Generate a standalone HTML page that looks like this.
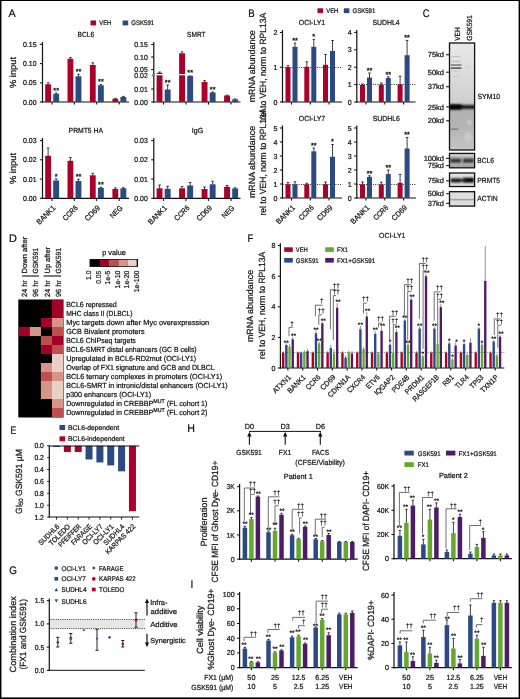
<!DOCTYPE html>
<html><head><meta charset="utf-8"><title>Figure</title>
<style>html,body{margin:0;padding:0;background:#fff;}body{width:520px;height:699px;overflow:hidden;font-family:"Liberation Sans",sans-serif;}svg{display:block;}</style></head>
<body>
<svg width="520" height="699" viewBox="0 0 520 699" font-family="'Liberation Sans', sans-serif" text-rendering="geometricPrecision" style="opacity:0.999">
<rect x="0.00" y="0.00" width="520.00" height="699.00" fill="#fff" />
<text transform="translate(8.60 16.60) scale(0.976 1)" font-size="11.09" text-anchor="start" fill="#111" stroke="#111" stroke-width="0.22" >A</text>
<rect x="90.50" y="20.50" width="5.60" height="4.90" fill="#AB002A" />
<text transform="translate(99.30 25.30) scale(0.881 1)" font-size="6.67" text-anchor="start" fill="#111" stroke="#111" stroke-width="0.22" >VEH</text>
<rect x="122.60" y="20.50" width="5.60" height="4.90" fill="#2B4982" />
<text transform="translate(131.30 25.30) scale(0.906 1)" font-size="6.67" text-anchor="start" fill="#111" stroke="#111" stroke-width="0.22" >GSK591</text>
<line x1="42.50" y1="42.00" x2="42.50" y2="102.60" stroke="#111" stroke-width="1.2" />
<line x1="39.90" y1="102.00" x2="42.50" y2="102.00" stroke="#111" stroke-width="1.08" />
<text transform="translate(36.50 104.58) scale(0.954 1)" font-size="7.24" text-anchor="end" fill="#111" stroke="#111" stroke-width="0.22" >0.00</text>
<line x1="39.90" y1="82.80" x2="42.50" y2="82.80" stroke="#111" stroke-width="1.08" />
<text transform="translate(36.50 85.38) scale(0.954 1)" font-size="7.24" text-anchor="end" fill="#111" stroke="#111" stroke-width="0.22" >0.05</text>
<line x1="39.90" y1="63.60" x2="42.50" y2="63.60" stroke="#111" stroke-width="1.08" />
<text transform="translate(36.50 66.18) scale(0.954 1)" font-size="7.24" text-anchor="end" fill="#111" stroke="#111" stroke-width="0.22" >0.10</text>
<line x1="39.90" y1="44.40" x2="42.50" y2="44.40" stroke="#111" stroke-width="1.08" />
<text transform="translate(36.50 46.98) scale(0.954 1)" font-size="7.24" text-anchor="end" fill="#111" stroke="#111" stroke-width="0.22" >0.15</text>
<line x1="41.90" y1="102.00" x2="129.00" y2="102.00" stroke="#111" stroke-width="1.2" />
<line x1="52.00" y1="102.00" x2="52.00" y2="104.60" stroke="#111" stroke-width="1.08" />
<line x1="74.30" y1="102.00" x2="74.30" y2="104.60" stroke="#111" stroke-width="1.08" />
<line x1="96.70" y1="102.00" x2="96.70" y2="104.60" stroke="#111" stroke-width="1.08" />
<line x1="119.20" y1="102.00" x2="119.20" y2="104.60" stroke="#111" stroke-width="1.08" />
<text transform="translate(85.80 36.90) scale(0.896 1)" font-size="7.43" text-anchor="middle" fill="#111" stroke="#111" stroke-width="0.22" >BCL6</text>
<text transform="translate(15.90 72.50) rotate(-90) scale(1.035 1)" font-size="8.98" text-anchor="middle" fill="#111" stroke="#111" stroke-width="0.22" >% input</text>
<line x1="48.10" y1="82.80" x2="48.10" y2="84.80" stroke="#111" stroke-width="0.8" />
<line x1="46.80" y1="82.80" x2="49.40" y2="82.80" stroke="#111" stroke-width="0.8" />
<rect x="45.20" y="84.30" width="5.80" height="17.70" fill="#AB002A" />
<line x1="56.15" y1="93.00" x2="56.15" y2="94.30" stroke="#111" stroke-width="0.8" />
<line x1="54.85" y1="93.00" x2="57.45" y2="93.00" stroke="#111" stroke-width="0.8" />
<rect x="53.20" y="93.80" width="5.90" height="8.20" fill="#2B4982" />
<text transform="translate(56.20 92.70)" font-size="7.40" text-anchor="middle" fill="#111" stroke="#111" stroke-width="0.3" >**</text>
<line x1="70.40" y1="57.60" x2="70.40" y2="59.30" stroke="#111" stroke-width="0.8" />
<line x1="69.10" y1="57.60" x2="71.70" y2="57.60" stroke="#111" stroke-width="0.8" />
<rect x="67.50" y="58.80" width="5.80" height="43.20" fill="#AB002A" />
<line x1="78.45" y1="74.30" x2="78.45" y2="76.80" stroke="#111" stroke-width="0.8" />
<line x1="77.15" y1="74.30" x2="79.75" y2="74.30" stroke="#111" stroke-width="0.8" />
<rect x="75.50" y="76.30" width="5.90" height="25.70" fill="#2B4982" />
<text transform="translate(78.50 74.00)" font-size="7.40" text-anchor="middle" fill="#111" stroke="#111" stroke-width="0.3" >**</text>
<line x1="92.80" y1="62.80" x2="92.80" y2="65.50" stroke="#111" stroke-width="0.8" />
<line x1="91.50" y1="62.80" x2="94.10" y2="62.80" stroke="#111" stroke-width="0.8" />
<rect x="89.90" y="65.00" width="5.80" height="37.00" fill="#AB002A" />
<line x1="100.85" y1="84.60" x2="100.85" y2="85.80" stroke="#111" stroke-width="0.8" />
<line x1="99.55" y1="84.60" x2="102.15" y2="84.60" stroke="#111" stroke-width="0.8" />
<rect x="97.90" y="85.30" width="5.90" height="16.70" fill="#2B4982" />
<text transform="translate(100.90 84.30)" font-size="7.40" text-anchor="middle" fill="#111" stroke="#111" stroke-width="0.3" >**</text>
<line x1="115.30" y1="98.30" x2="115.30" y2="99.30" stroke="#111" stroke-width="0.8" />
<line x1="114.00" y1="98.30" x2="116.60" y2="98.30" stroke="#111" stroke-width="0.8" />
<rect x="112.40" y="98.80" width="5.80" height="3.20" fill="#AB002A" />
<line x1="123.35" y1="96.40" x2="123.35" y2="97.50" stroke="#111" stroke-width="0.8" />
<line x1="122.05" y1="96.40" x2="124.65" y2="96.40" stroke="#111" stroke-width="0.8" />
<rect x="120.40" y="97.00" width="5.90" height="5.00" fill="#2B4982" />
<line x1="153.80" y1="42.00" x2="153.80" y2="102.60" stroke="#111" stroke-width="1.2" />
<line x1="151.20" y1="102.00" x2="153.80" y2="102.00" stroke="#111" stroke-width="1.08" />
<text transform="translate(147.80 104.58) scale(0.954 1)" font-size="7.24" text-anchor="end" fill="#111" stroke="#111" stroke-width="0.22" >0.00</text>
<line x1="151.20" y1="89.00" x2="153.80" y2="89.00" stroke="#111" stroke-width="1.08" />
<text transform="translate(147.80 91.58) scale(0.954 1)" font-size="7.24" text-anchor="end" fill="#111" stroke="#111" stroke-width="0.22" >0.01</text>
<line x1="151.20" y1="75.80" x2="153.80" y2="75.80" stroke="#111" stroke-width="1.08" />
<text transform="translate(147.80 78.38) scale(0.954 1)" font-size="7.24" text-anchor="end" fill="#111" stroke="#111" stroke-width="0.22" >0.02</text>
<line x1="151.20" y1="69.50" x2="153.80" y2="69.50" stroke="#111" stroke-width="1.08" />
<text transform="translate(147.80 72.08) scale(0.954 1)" font-size="7.24" text-anchor="end" fill="#111" stroke="#111" stroke-width="0.22" >0.05</text>
<line x1="151.20" y1="57.00" x2="153.80" y2="57.00" stroke="#111" stroke-width="1.08" />
<text transform="translate(147.80 59.58) scale(0.954 1)" font-size="7.24" text-anchor="end" fill="#111" stroke="#111" stroke-width="0.22" >0.10</text>
<line x1="151.20" y1="44.50" x2="153.80" y2="44.50" stroke="#111" stroke-width="1.08" />
<text transform="translate(147.80 47.08) scale(0.954 1)" font-size="7.24" text-anchor="end" fill="#111" stroke="#111" stroke-width="0.22" >0.15</text>
<line x1="153.20" y1="102.00" x2="240.50" y2="102.00" stroke="#111" stroke-width="1.2" />
<line x1="163.50" y1="102.00" x2="163.50" y2="104.60" stroke="#111" stroke-width="1.08" />
<line x1="186.00" y1="102.00" x2="186.00" y2="104.60" stroke="#111" stroke-width="1.08" />
<line x1="208.50" y1="102.00" x2="208.50" y2="104.60" stroke="#111" stroke-width="1.08" />
<line x1="231.00" y1="102.00" x2="231.00" y2="104.60" stroke="#111" stroke-width="1.08" />
<text transform="translate(196.30 36.80) scale(0.881 1)" font-size="7.43" text-anchor="middle" fill="#111" stroke="#111" stroke-width="0.22" >SMRT</text>
<line x1="159.55" y1="72.00" x2="159.55" y2="73.30" stroke="#111" stroke-width="0.8" />
<line x1="158.25" y1="72.00" x2="160.85" y2="72.00" stroke="#111" stroke-width="0.8" />
<rect x="156.60" y="72.80" width="5.90" height="29.20" fill="#AB002A" />
<line x1="167.65" y1="85.00" x2="167.65" y2="90.00" stroke="#111" stroke-width="0.8" />
<line x1="166.35" y1="85.00" x2="168.95" y2="85.00" stroke="#111" stroke-width="0.8" />
<rect x="164.70" y="89.50" width="5.90" height="12.50" fill="#2B4982" />
<text transform="translate(167.70 84.70)" font-size="7.40" text-anchor="middle" fill="#111" stroke="#111" stroke-width="0.3" >**</text>
<line x1="182.05" y1="51.80" x2="182.05" y2="53.80" stroke="#111" stroke-width="0.8" />
<line x1="180.75" y1="51.80" x2="183.35" y2="51.80" stroke="#111" stroke-width="0.8" />
<rect x="179.10" y="53.30" width="5.90" height="48.70" fill="#AB002A" />
<line x1="190.15" y1="75.00" x2="190.15" y2="76.30" stroke="#111" stroke-width="0.8" />
<line x1="188.85" y1="75.00" x2="191.45" y2="75.00" stroke="#111" stroke-width="0.8" />
<rect x="187.20" y="75.80" width="5.90" height="26.20" fill="#2B4982" />
<text transform="translate(190.20 74.70)" font-size="7.40" text-anchor="middle" fill="#111" stroke="#111" stroke-width="0.3" >**</text>
<line x1="204.55" y1="80.60" x2="204.55" y2="82.50" stroke="#111" stroke-width="0.8" />
<line x1="203.25" y1="80.60" x2="205.85" y2="80.60" stroke="#111" stroke-width="0.8" />
<rect x="201.60" y="82.00" width="5.90" height="20.00" fill="#AB002A" />
<line x1="212.65" y1="92.00" x2="212.65" y2="93.00" stroke="#111" stroke-width="0.8" />
<line x1="211.35" y1="92.00" x2="213.95" y2="92.00" stroke="#111" stroke-width="0.8" />
<rect x="209.70" y="92.50" width="5.90" height="9.50" fill="#2B4982" />
<text transform="translate(212.70 91.70)" font-size="7.40" text-anchor="middle" fill="#111" stroke="#111" stroke-width="0.3" >**</text>
<line x1="227.05" y1="95.10" x2="227.05" y2="96.00" stroke="#111" stroke-width="0.8" />
<line x1="225.75" y1="95.10" x2="228.35" y2="95.10" stroke="#111" stroke-width="0.8" />
<rect x="224.10" y="95.50" width="5.90" height="6.50" fill="#AB002A" />
<line x1="235.15" y1="98.90" x2="235.15" y2="99.80" stroke="#111" stroke-width="0.8" />
<line x1="233.85" y1="98.90" x2="236.45" y2="98.90" stroke="#111" stroke-width="0.8" />
<rect x="232.20" y="99.30" width="5.90" height="2.70" fill="#2B4982" />
<line x1="154.60" y1="74.60" x2="194.00" y2="74.60" stroke="#fff" stroke-width="1.1" />
<rect x="150.40" y="74.60" width="2.70" height="2.00" fill="#fff" />
<circle cx="153.5" cy="75.2" r="1.0" fill="#fff" stroke="#111" stroke-width="0.7"/>
<line x1="42.50" y1="138.00" x2="42.50" y2="198.90" stroke="#111" stroke-width="1.2" />
<line x1="39.90" y1="198.30" x2="42.50" y2="198.30" stroke="#111" stroke-width="1.08" />
<text transform="translate(36.50 200.88) scale(0.954 1)" font-size="7.24" text-anchor="end" fill="#111" stroke="#111" stroke-width="0.22" >0.00</text>
<line x1="39.90" y1="179.05" x2="42.50" y2="179.05" stroke="#111" stroke-width="1.08" />
<text transform="translate(36.50 181.63) scale(0.954 1)" font-size="7.24" text-anchor="end" fill="#111" stroke="#111" stroke-width="0.22" >0.01</text>
<line x1="39.90" y1="159.80" x2="42.50" y2="159.80" stroke="#111" stroke-width="1.08" />
<text transform="translate(36.50 162.38) scale(0.954 1)" font-size="7.24" text-anchor="end" fill="#111" stroke="#111" stroke-width="0.22" >0.02</text>
<line x1="39.90" y1="140.55" x2="42.50" y2="140.55" stroke="#111" stroke-width="1.08" />
<text transform="translate(36.50 143.13) scale(0.954 1)" font-size="7.24" text-anchor="end" fill="#111" stroke="#111" stroke-width="0.22" >0.03</text>
<line x1="41.90" y1="198.30" x2="129.00" y2="198.30" stroke="#111" stroke-width="1.2" />
<line x1="52.00" y1="198.30" x2="52.00" y2="200.90" stroke="#111" stroke-width="1.08" />
<line x1="74.30" y1="198.30" x2="74.30" y2="200.90" stroke="#111" stroke-width="1.08" />
<line x1="96.70" y1="198.30" x2="96.70" y2="200.90" stroke="#111" stroke-width="1.08" />
<line x1="119.20" y1="198.30" x2="119.20" y2="200.90" stroke="#111" stroke-width="1.08" />
<text transform="translate(85.80 133.10) scale(0.917 1)" font-size="7.43" text-anchor="middle" fill="#111" stroke="#111" stroke-width="0.22" >PRMT5 HA</text>
<text transform="translate(15.90 168.50) rotate(-90) scale(1.035 1)" font-size="8.98" text-anchor="middle" fill="#111" stroke="#111" stroke-width="0.22" >% input</text>
<line x1="48.10" y1="148.00" x2="48.10" y2="156.30" stroke="#111" stroke-width="0.8" />
<line x1="46.80" y1="148.00" x2="49.40" y2="148.00" stroke="#111" stroke-width="0.8" />
<rect x="45.20" y="155.80" width="5.80" height="42.50" fill="#AB002A" />
<line x1="56.15" y1="178.80" x2="56.15" y2="181.00" stroke="#111" stroke-width="0.8" />
<line x1="54.85" y1="178.80" x2="57.45" y2="178.80" stroke="#111" stroke-width="0.8" />
<rect x="53.20" y="180.50" width="5.90" height="17.80" fill="#2B4982" />
<text transform="translate(56.20 178.50)" font-size="7.40" text-anchor="middle" fill="#111" stroke="#111" stroke-width="0.3" >*</text>
<line x1="70.40" y1="157.50" x2="70.40" y2="161.30" stroke="#111" stroke-width="0.8" />
<line x1="69.10" y1="157.50" x2="71.70" y2="157.50" stroke="#111" stroke-width="0.8" />
<rect x="67.50" y="160.80" width="5.80" height="37.50" fill="#AB002A" />
<line x1="78.45" y1="179.30" x2="78.45" y2="181.50" stroke="#111" stroke-width="0.8" />
<line x1="77.15" y1="179.30" x2="79.75" y2="179.30" stroke="#111" stroke-width="0.8" />
<rect x="75.50" y="181.00" width="5.90" height="17.30" fill="#2B4982" />
<text transform="translate(78.50 179.00)" font-size="7.40" text-anchor="middle" fill="#111" stroke="#111" stroke-width="0.3" >**</text>
<line x1="92.80" y1="173.30" x2="92.80" y2="175.80" stroke="#111" stroke-width="0.8" />
<line x1="91.50" y1="173.30" x2="94.10" y2="173.30" stroke="#111" stroke-width="0.8" />
<rect x="89.90" y="175.30" width="5.80" height="23.00" fill="#AB002A" />
<line x1="100.85" y1="187.20" x2="100.85" y2="188.30" stroke="#111" stroke-width="0.8" />
<line x1="99.55" y1="187.20" x2="102.15" y2="187.20" stroke="#111" stroke-width="0.8" />
<rect x="97.90" y="187.80" width="5.90" height="10.50" fill="#2B4982" />
<text transform="translate(100.90 186.90)" font-size="7.40" text-anchor="middle" fill="#111" stroke="#111" stroke-width="0.3" >**</text>
<line x1="115.30" y1="187.90" x2="115.30" y2="189.50" stroke="#111" stroke-width="0.8" />
<line x1="114.00" y1="187.90" x2="116.60" y2="187.90" stroke="#111" stroke-width="0.8" />
<rect x="112.40" y="189.00" width="5.80" height="9.30" fill="#AB002A" />
<line x1="123.35" y1="187.70" x2="123.35" y2="188.80" stroke="#111" stroke-width="0.8" />
<line x1="122.05" y1="187.70" x2="124.65" y2="187.70" stroke="#111" stroke-width="0.8" />
<rect x="120.40" y="188.30" width="5.90" height="10.00" fill="#2B4982" />
<text transform="translate(56.00 208.50) rotate(-45) scale(0.930 1)" font-size="7.61" text-anchor="end" fill="#111" stroke="#111" stroke-width="0.22" >BANK1</text>
<text transform="translate(78.30 208.50) rotate(-45) scale(0.864 1)" font-size="7.61" text-anchor="end" fill="#111" stroke="#111" stroke-width="0.22" >CCR6</text>
<text transform="translate(100.70 208.50) rotate(-45) scale(0.945 1)" font-size="7.61" text-anchor="end" fill="#111" stroke="#111" stroke-width="0.22" >CD69</text>
<text transform="translate(123.20 208.50) rotate(-45) scale(0.882 1)" font-size="7.61" text-anchor="end" fill="#111" stroke="#111" stroke-width="0.22" >NEG</text>
<line x1="153.80" y1="138.00" x2="153.80" y2="198.90" stroke="#111" stroke-width="1.2" />
<line x1="151.20" y1="198.30" x2="153.80" y2="198.30" stroke="#111" stroke-width="1.08" />
<text transform="translate(147.80 200.88) scale(0.954 1)" font-size="7.24" text-anchor="end" fill="#111" stroke="#111" stroke-width="0.22" >0.00</text>
<line x1="151.20" y1="179.05" x2="153.80" y2="179.05" stroke="#111" stroke-width="1.08" />
<text transform="translate(147.80 181.63) scale(0.954 1)" font-size="7.24" text-anchor="end" fill="#111" stroke="#111" stroke-width="0.22" >0.01</text>
<line x1="151.20" y1="159.80" x2="153.80" y2="159.80" stroke="#111" stroke-width="1.08" />
<text transform="translate(147.80 162.38) scale(0.954 1)" font-size="7.24" text-anchor="end" fill="#111" stroke="#111" stroke-width="0.22" >0.02</text>
<line x1="151.20" y1="140.55" x2="153.80" y2="140.55" stroke="#111" stroke-width="1.08" />
<text transform="translate(147.80 143.13) scale(0.954 1)" font-size="7.24" text-anchor="end" fill="#111" stroke="#111" stroke-width="0.22" >0.03</text>
<line x1="153.20" y1="198.30" x2="240.50" y2="198.30" stroke="#111" stroke-width="1.2" />
<line x1="163.50" y1="198.30" x2="163.50" y2="200.90" stroke="#111" stroke-width="1.08" />
<line x1="186.00" y1="198.30" x2="186.00" y2="200.90" stroke="#111" stroke-width="1.08" />
<line x1="208.50" y1="198.30" x2="208.50" y2="200.90" stroke="#111" stroke-width="1.08" />
<line x1="231.00" y1="198.30" x2="231.00" y2="200.90" stroke="#111" stroke-width="1.08" />
<text transform="translate(197.50 133.10) scale(0.953 1)" font-size="7.43" text-anchor="middle" fill="#111" stroke="#111" stroke-width="0.22" >IgG</text>
<line x1="159.55" y1="185.00" x2="159.55" y2="188.80" stroke="#111" stroke-width="0.8" />
<line x1="158.25" y1="185.00" x2="160.85" y2="185.00" stroke="#111" stroke-width="0.8" />
<rect x="156.60" y="188.30" width="5.90" height="10.00" fill="#AB002A" />
<line x1="167.65" y1="186.30" x2="167.65" y2="189.30" stroke="#111" stroke-width="0.8" />
<line x1="166.35" y1="186.30" x2="168.95" y2="186.30" stroke="#111" stroke-width="0.8" />
<rect x="164.70" y="188.80" width="5.90" height="9.50" fill="#2B4982" />
<line x1="182.05" y1="186.50" x2="182.05" y2="188.80" stroke="#111" stroke-width="0.8" />
<line x1="180.75" y1="186.50" x2="183.35" y2="186.50" stroke="#111" stroke-width="0.8" />
<rect x="179.10" y="188.30" width="5.90" height="10.00" fill="#AB002A" />
<line x1="190.15" y1="182.50" x2="190.15" y2="186.00" stroke="#111" stroke-width="0.8" />
<line x1="188.85" y1="182.50" x2="191.45" y2="182.50" stroke="#111" stroke-width="0.8" />
<rect x="187.20" y="185.50" width="5.90" height="12.80" fill="#2B4982" />
<line x1="204.55" y1="187.00" x2="204.55" y2="189.50" stroke="#111" stroke-width="0.8" />
<line x1="203.25" y1="187.00" x2="205.85" y2="187.00" stroke="#111" stroke-width="0.8" />
<rect x="201.60" y="189.00" width="5.90" height="9.30" fill="#AB002A" />
<line x1="212.65" y1="181.30" x2="212.65" y2="184.80" stroke="#111" stroke-width="0.8" />
<line x1="211.35" y1="181.30" x2="213.95" y2="181.30" stroke="#111" stroke-width="0.8" />
<rect x="209.70" y="184.30" width="5.90" height="14.00" fill="#2B4982" />
<line x1="227.05" y1="185.50" x2="227.05" y2="187.30" stroke="#111" stroke-width="0.8" />
<line x1="225.75" y1="185.50" x2="228.35" y2="185.50" stroke="#111" stroke-width="0.8" />
<rect x="224.10" y="186.80" width="5.90" height="11.50" fill="#AB002A" />
<line x1="235.15" y1="187.80" x2="235.15" y2="189.00" stroke="#111" stroke-width="0.8" />
<line x1="233.85" y1="187.80" x2="236.45" y2="187.80" stroke="#111" stroke-width="0.8" />
<rect x="232.20" y="188.50" width="5.90" height="9.80" fill="#2B4982" />
<text transform="translate(167.50 208.50) rotate(-45) scale(0.930 1)" font-size="7.61" text-anchor="end" fill="#111" stroke="#111" stroke-width="0.22" >BANK1</text>
<text transform="translate(190.00 208.50) rotate(-45) scale(0.864 1)" font-size="7.61" text-anchor="end" fill="#111" stroke="#111" stroke-width="0.22" >CCR6</text>
<text transform="translate(212.50 208.50) rotate(-45) scale(0.945 1)" font-size="7.61" text-anchor="end" fill="#111" stroke="#111" stroke-width="0.22" >CD69</text>
<text transform="translate(235.00 208.50) rotate(-45) scale(0.882 1)" font-size="7.61" text-anchor="end" fill="#111" stroke="#111" stroke-width="0.22" >NEG</text>
<text transform="translate(248.20 16.80) scale(0.864 1)" font-size="11.09" text-anchor="start" fill="#111" stroke="#111" stroke-width="0.22" >B</text>
<rect x="317.50" y="8.30" width="5.60" height="4.80" fill="#AB002A" />
<text transform="translate(326.30 13.10) scale(0.881 1)" font-size="6.67" text-anchor="start" fill="#111" stroke="#111" stroke-width="0.22" >VEH</text>
<rect x="343.80" y="8.30" width="5.60" height="4.80" fill="#2B4982" />
<text transform="translate(352.50 13.10) scale(0.906 1)" font-size="6.67" text-anchor="start" fill="#111" stroke="#111" stroke-width="0.22" >GSK591</text>
<text transform="translate(254.90 66.30) rotate(-90) scale(0.991 1)" font-size="8.98" text-anchor="middle" fill="#111" stroke="#111" stroke-width="0.22" >mRNA abundance</text>
<text transform="translate(266.20 66.30) rotate(-90) scale(0.956 1)" font-size="8.98" text-anchor="middle" fill="#111" stroke="#111" stroke-width="0.22" >rel to VEH, norm to RPL13A</text>
<text transform="translate(254.90 162.00) rotate(-90) scale(0.991 1)" font-size="8.98" text-anchor="middle" fill="#111" stroke="#111" stroke-width="0.22" >mRNA abundance</text>
<text transform="translate(266.20 162.00) rotate(-90) scale(0.956 1)" font-size="8.98" text-anchor="middle" fill="#111" stroke="#111" stroke-width="0.22" >rel to VEH, norm to RPL13A</text>
<line x1="282.50" y1="30.00" x2="282.50" y2="102.60" stroke="#111" stroke-width="1.2" />
<line x1="279.90" y1="102.00" x2="282.50" y2="102.00" stroke="#111" stroke-width="1.08" />
<text transform="translate(277.50 104.58) scale(0.981 1)" font-size="7.24" text-anchor="end" fill="#111" stroke="#111" stroke-width="0.22" >0</text>
<line x1="279.90" y1="67.25" x2="282.50" y2="67.25" stroke="#111" stroke-width="1.08" />
<text transform="translate(277.50 69.83) scale(0.981 1)" font-size="7.24" text-anchor="end" fill="#111" stroke="#111" stroke-width="0.22" >1</text>
<line x1="279.90" y1="32.50" x2="282.50" y2="32.50" stroke="#111" stroke-width="1.08" />
<text transform="translate(277.50 35.08) scale(0.981 1)" font-size="7.24" text-anchor="end" fill="#111" stroke="#111" stroke-width="0.22" >2</text>
<line x1="281.90" y1="102.00" x2="342.00" y2="102.00" stroke="#111" stroke-width="1.2" />
<line x1="291.50" y1="102.00" x2="291.50" y2="104.60" stroke="#111" stroke-width="1.08" />
<line x1="310.30" y1="102.00" x2="310.30" y2="104.60" stroke="#111" stroke-width="1.08" />
<line x1="329.00" y1="102.00" x2="329.00" y2="104.60" stroke="#111" stroke-width="1.08" />
<text transform="translate(312.00 25.10) scale(0.931 1)" font-size="7.43" text-anchor="middle" fill="#111" stroke="#111" stroke-width="0.22" >OCI-LY1</text>
<line x1="282.50" y1="67.50" x2="342.50" y2="67.50" stroke="#333" stroke-width="1.0" stroke-dasharray="1 1.3"/>
<line x1="288.00" y1="65.50" x2="288.00" y2="67.50" stroke="#111" stroke-width="0.8" />
<line x1="286.70" y1="65.50" x2="289.30" y2="65.50" stroke="#111" stroke-width="0.8" />
<rect x="285.50" y="67.00" width="5.00" height="35.00" fill="#AB002A" />
<line x1="295.00" y1="43.00" x2="295.00" y2="47.30" stroke="#111" stroke-width="0.8" />
<line x1="293.70" y1="43.00" x2="296.30" y2="43.00" stroke="#111" stroke-width="0.8" />
<rect x="292.50" y="46.80" width="5.00" height="55.20" fill="#2B4982" />
<text transform="translate(295.00 42.70)" font-size="7.40" text-anchor="middle" fill="#111" stroke="#111" stroke-width="0.3" >**</text>
<line x1="306.80" y1="61.80" x2="306.80" y2="67.30" stroke="#111" stroke-width="0.8" />
<line x1="305.50" y1="61.80" x2="308.10" y2="61.80" stroke="#111" stroke-width="0.8" />
<rect x="304.30" y="66.80" width="5.00" height="35.20" fill="#AB002A" />
<line x1="313.80" y1="39.30" x2="313.80" y2="47.30" stroke="#111" stroke-width="0.8" />
<line x1="312.50" y1="39.30" x2="315.10" y2="39.30" stroke="#111" stroke-width="0.8" />
<rect x="311.30" y="46.80" width="5.00" height="55.20" fill="#2B4982" />
<text transform="translate(313.80 39.00)" font-size="7.40" text-anchor="middle" fill="#111" stroke="#111" stroke-width="0.3" >*</text>
<line x1="325.50" y1="54.50" x2="325.50" y2="65.30" stroke="#111" stroke-width="0.8" />
<line x1="324.20" y1="54.50" x2="326.80" y2="54.50" stroke="#111" stroke-width="0.8" />
<rect x="323.00" y="64.80" width="5.00" height="37.20" fill="#AB002A" />
<line x1="332.50" y1="40.50" x2="332.50" y2="51.50" stroke="#111" stroke-width="0.8" />
<line x1="331.20" y1="40.50" x2="333.80" y2="40.50" stroke="#111" stroke-width="0.8" />
<rect x="330.00" y="51.00" width="5.00" height="51.00" fill="#2B4982" />
<line x1="356.80" y1="30.00" x2="356.80" y2="102.60" stroke="#111" stroke-width="1.2" />
<line x1="354.20" y1="102.00" x2="356.80" y2="102.00" stroke="#111" stroke-width="1.08" />
<text transform="translate(351.80 104.58) scale(0.981 1)" font-size="7.24" text-anchor="end" fill="#111" stroke="#111" stroke-width="0.22" >0</text>
<line x1="354.20" y1="84.60" x2="356.80" y2="84.60" stroke="#111" stroke-width="1.08" />
<text transform="translate(351.80 87.18) scale(0.981 1)" font-size="7.24" text-anchor="end" fill="#111" stroke="#111" stroke-width="0.22" >1</text>
<line x1="354.20" y1="67.20" x2="356.80" y2="67.20" stroke="#111" stroke-width="1.08" />
<text transform="translate(351.80 69.78) scale(0.981 1)" font-size="7.24" text-anchor="end" fill="#111" stroke="#111" stroke-width="0.22" >2</text>
<line x1="354.20" y1="49.80" x2="356.80" y2="49.80" stroke="#111" stroke-width="1.08" />
<text transform="translate(351.80 52.38) scale(0.981 1)" font-size="7.24" text-anchor="end" fill="#111" stroke="#111" stroke-width="0.22" >3</text>
<line x1="354.20" y1="32.40" x2="356.80" y2="32.40" stroke="#111" stroke-width="1.08" />
<text transform="translate(351.80 34.98) scale(0.981 1)" font-size="7.24" text-anchor="end" fill="#111" stroke="#111" stroke-width="0.22" >4</text>
<line x1="356.20" y1="102.00" x2="415.50" y2="102.00" stroke="#111" stroke-width="1.2" />
<line x1="366.00" y1="102.00" x2="366.00" y2="104.60" stroke="#111" stroke-width="1.08" />
<line x1="384.80" y1="102.00" x2="384.80" y2="104.60" stroke="#111" stroke-width="1.08" />
<line x1="403.60" y1="102.00" x2="403.60" y2="104.60" stroke="#111" stroke-width="1.08" />
<text transform="translate(386.00 25.10) scale(0.928 1)" font-size="7.43" text-anchor="middle" fill="#111" stroke="#111" stroke-width="0.22" >SUDHL4</text>
<line x1="356.80" y1="84.50" x2="415.50" y2="84.50" stroke="#333" stroke-width="1.0" stroke-dasharray="1 1.3"/>
<line x1="362.50" y1="84.00" x2="362.50" y2="85.50" stroke="#111" stroke-width="0.8" />
<line x1="361.20" y1="84.00" x2="363.80" y2="84.00" stroke="#111" stroke-width="0.8" />
<rect x="360.00" y="85.00" width="5.00" height="17.00" fill="#AB002A" />
<line x1="369.50" y1="73.00" x2="369.50" y2="78.00" stroke="#111" stroke-width="0.8" />
<line x1="368.20" y1="73.00" x2="370.80" y2="73.00" stroke="#111" stroke-width="0.8" />
<rect x="367.00" y="77.50" width="5.00" height="24.50" fill="#2B4982" />
<text transform="translate(369.50 72.70)" font-size="7.40" text-anchor="middle" fill="#111" stroke="#111" stroke-width="0.3" >**</text>
<line x1="381.30" y1="83.00" x2="381.30" y2="85.30" stroke="#111" stroke-width="0.8" />
<line x1="380.00" y1="83.00" x2="382.60" y2="83.00" stroke="#111" stroke-width="0.8" />
<rect x="378.80" y="84.80" width="5.00" height="17.20" fill="#AB002A" />
<line x1="388.30" y1="76.80" x2="388.30" y2="78.50" stroke="#111" stroke-width="0.8" />
<line x1="387.00" y1="76.80" x2="389.60" y2="76.80" stroke="#111" stroke-width="0.8" />
<rect x="385.80" y="78.00" width="5.00" height="24.00" fill="#2B4982" />
<text transform="translate(388.30 76.50)" font-size="7.40" text-anchor="middle" fill="#111" stroke="#111" stroke-width="0.3" >**</text>
<line x1="400.10" y1="76.20" x2="400.10" y2="84.80" stroke="#111" stroke-width="0.8" />
<line x1="398.80" y1="76.20" x2="401.40" y2="76.20" stroke="#111" stroke-width="0.8" />
<rect x="397.60" y="84.30" width="5.00" height="17.70" fill="#AB002A" />
<line x1="407.10" y1="40.40" x2="407.10" y2="55.70" stroke="#111" stroke-width="0.8" />
<line x1="405.80" y1="40.40" x2="408.40" y2="40.40" stroke="#111" stroke-width="0.8" />
<rect x="404.60" y="55.20" width="5.00" height="46.80" fill="#2B4982" />
<text transform="translate(407.10 40.10)" font-size="7.40" text-anchor="middle" fill="#111" stroke="#111" stroke-width="0.3" >**</text>
<line x1="282.50" y1="125.50" x2="282.50" y2="198.60" stroke="#111" stroke-width="1.2" />
<line x1="279.90" y1="198.00" x2="282.50" y2="198.00" stroke="#111" stroke-width="1.08" />
<text transform="translate(277.50 200.58) scale(0.981 1)" font-size="7.24" text-anchor="end" fill="#111" stroke="#111" stroke-width="0.22" >0</text>
<line x1="279.90" y1="184.00" x2="282.50" y2="184.00" stroke="#111" stroke-width="1.08" />
<text transform="translate(277.50 186.58) scale(0.981 1)" font-size="7.24" text-anchor="end" fill="#111" stroke="#111" stroke-width="0.22" >1</text>
<line x1="279.90" y1="170.00" x2="282.50" y2="170.00" stroke="#111" stroke-width="1.08" />
<text transform="translate(277.50 172.58) scale(0.981 1)" font-size="7.24" text-anchor="end" fill="#111" stroke="#111" stroke-width="0.22" >2</text>
<line x1="279.90" y1="156.00" x2="282.50" y2="156.00" stroke="#111" stroke-width="1.08" />
<text transform="translate(277.50 158.58) scale(0.981 1)" font-size="7.24" text-anchor="end" fill="#111" stroke="#111" stroke-width="0.22" >3</text>
<line x1="279.90" y1="142.00" x2="282.50" y2="142.00" stroke="#111" stroke-width="1.08" />
<text transform="translate(277.50 144.58) scale(0.981 1)" font-size="7.24" text-anchor="end" fill="#111" stroke="#111" stroke-width="0.22" >4</text>
<line x1="279.90" y1="128.00" x2="282.50" y2="128.00" stroke="#111" stroke-width="1.08" />
<text transform="translate(277.50 130.58) scale(0.981 1)" font-size="7.24" text-anchor="end" fill="#111" stroke="#111" stroke-width="0.22" >5</text>
<line x1="281.90" y1="198.00" x2="342.00" y2="198.00" stroke="#111" stroke-width="1.2" />
<line x1="291.50" y1="198.00" x2="291.50" y2="200.60" stroke="#111" stroke-width="1.08" />
<line x1="310.30" y1="198.00" x2="310.30" y2="200.60" stroke="#111" stroke-width="1.08" />
<line x1="329.00" y1="198.00" x2="329.00" y2="200.60" stroke="#111" stroke-width="1.08" />
<text transform="translate(312.00 120.60) scale(0.931 1)" font-size="7.43" text-anchor="middle" fill="#111" stroke="#111" stroke-width="0.22" >OCI-LY7</text>
<line x1="282.50" y1="184.50" x2="342.50" y2="184.50" stroke="#333" stroke-width="1.0" stroke-dasharray="1 1.3"/>
<line x1="288.00" y1="182.50" x2="288.00" y2="184.80" stroke="#111" stroke-width="0.8" />
<line x1="286.70" y1="182.50" x2="289.30" y2="182.50" stroke="#111" stroke-width="0.8" />
<rect x="285.50" y="184.30" width="5.00" height="13.70" fill="#AB002A" />
<line x1="295.00" y1="181.80" x2="295.00" y2="184.80" stroke="#111" stroke-width="0.8" />
<line x1="293.70" y1="181.80" x2="296.30" y2="181.80" stroke="#111" stroke-width="0.8" />
<rect x="292.50" y="184.30" width="5.00" height="13.70" fill="#2B4982" />
<line x1="306.80" y1="183.30" x2="306.80" y2="184.80" stroke="#111" stroke-width="0.8" />
<line x1="305.50" y1="183.30" x2="308.10" y2="183.30" stroke="#111" stroke-width="0.8" />
<rect x="304.30" y="184.30" width="5.00" height="13.70" fill="#AB002A" />
<line x1="313.80" y1="148.00" x2="313.80" y2="151.80" stroke="#111" stroke-width="0.8" />
<line x1="312.50" y1="148.00" x2="315.10" y2="148.00" stroke="#111" stroke-width="0.8" />
<rect x="311.30" y="151.30" width="5.00" height="46.70" fill="#2B4982" />
<text transform="translate(313.80 147.70)" font-size="7.40" text-anchor="middle" fill="#111" stroke="#111" stroke-width="0.3" >**</text>
<line x1="325.50" y1="182.00" x2="325.50" y2="184.80" stroke="#111" stroke-width="0.8" />
<line x1="324.20" y1="182.00" x2="326.80" y2="182.00" stroke="#111" stroke-width="0.8" />
<rect x="323.00" y="184.30" width="5.00" height="13.70" fill="#AB002A" />
<line x1="332.50" y1="144.50" x2="332.50" y2="157.30" stroke="#111" stroke-width="0.8" />
<line x1="331.20" y1="144.50" x2="333.80" y2="144.50" stroke="#111" stroke-width="0.8" />
<rect x="330.00" y="156.80" width="5.00" height="41.20" fill="#2B4982" />
<text transform="translate(332.50 144.20)" font-size="7.40" text-anchor="middle" fill="#111" stroke="#111" stroke-width="0.3" >*</text>
<line x1="356.80" y1="125.50" x2="356.80" y2="198.60" stroke="#111" stroke-width="1.2" />
<line x1="354.20" y1="198.00" x2="356.80" y2="198.00" stroke="#111" stroke-width="1.08" />
<text transform="translate(351.80 200.58) scale(0.981 1)" font-size="7.24" text-anchor="end" fill="#111" stroke="#111" stroke-width="0.22" >0</text>
<line x1="354.20" y1="184.00" x2="356.80" y2="184.00" stroke="#111" stroke-width="1.08" />
<text transform="translate(351.80 186.58) scale(0.981 1)" font-size="7.24" text-anchor="end" fill="#111" stroke="#111" stroke-width="0.22" >1</text>
<line x1="354.20" y1="170.00" x2="356.80" y2="170.00" stroke="#111" stroke-width="1.08" />
<text transform="translate(351.80 172.58) scale(0.981 1)" font-size="7.24" text-anchor="end" fill="#111" stroke="#111" stroke-width="0.22" >2</text>
<line x1="354.20" y1="156.00" x2="356.80" y2="156.00" stroke="#111" stroke-width="1.08" />
<text transform="translate(351.80 158.58) scale(0.981 1)" font-size="7.24" text-anchor="end" fill="#111" stroke="#111" stroke-width="0.22" >3</text>
<line x1="354.20" y1="142.00" x2="356.80" y2="142.00" stroke="#111" stroke-width="1.08" />
<text transform="translate(351.80 144.58) scale(0.981 1)" font-size="7.24" text-anchor="end" fill="#111" stroke="#111" stroke-width="0.22" >4</text>
<line x1="354.20" y1="128.00" x2="356.80" y2="128.00" stroke="#111" stroke-width="1.08" />
<text transform="translate(351.80 130.58) scale(0.981 1)" font-size="7.24" text-anchor="end" fill="#111" stroke="#111" stroke-width="0.22" >5</text>
<line x1="356.20" y1="198.00" x2="416.00" y2="198.00" stroke="#111" stroke-width="1.2" />
<line x1="366.00" y1="198.00" x2="366.00" y2="200.60" stroke="#111" stroke-width="1.08" />
<line x1="384.80" y1="198.00" x2="384.80" y2="200.60" stroke="#111" stroke-width="1.08" />
<line x1="403.60" y1="198.00" x2="403.60" y2="200.60" stroke="#111" stroke-width="1.08" />
<text transform="translate(386.30 120.60) scale(0.928 1)" font-size="7.43" text-anchor="middle" fill="#111" stroke="#111" stroke-width="0.22" >SUDHL6</text>
<line x1="356.80" y1="184.50" x2="416.00" y2="184.50" stroke="#333" stroke-width="1.0" stroke-dasharray="1 1.3"/>
<line x1="362.50" y1="182.00" x2="362.50" y2="184.80" stroke="#111" stroke-width="0.8" />
<line x1="361.20" y1="182.00" x2="363.80" y2="182.00" stroke="#111" stroke-width="0.8" />
<rect x="360.00" y="184.30" width="5.00" height="13.70" fill="#AB002A" />
<line x1="369.50" y1="175.80" x2="369.50" y2="177.50" stroke="#111" stroke-width="0.8" />
<line x1="368.20" y1="175.80" x2="370.80" y2="175.80" stroke="#111" stroke-width="0.8" />
<rect x="367.00" y="177.00" width="5.00" height="21.00" fill="#2B4982" />
<text transform="translate(369.50 175.50)" font-size="7.40" text-anchor="middle" fill="#111" stroke="#111" stroke-width="0.3" >**</text>
<line x1="381.30" y1="182.20" x2="381.30" y2="185.00" stroke="#111" stroke-width="0.8" />
<line x1="380.00" y1="182.20" x2="382.60" y2="182.20" stroke="#111" stroke-width="0.8" />
<rect x="378.80" y="184.50" width="5.00" height="13.50" fill="#AB002A" />
<line x1="388.30" y1="170.00" x2="388.30" y2="174.60" stroke="#111" stroke-width="0.8" />
<line x1="387.00" y1="170.00" x2="389.60" y2="170.00" stroke="#111" stroke-width="0.8" />
<rect x="385.80" y="174.10" width="5.00" height="23.90" fill="#2B4982" />
<text transform="translate(388.30 169.70)" font-size="7.40" text-anchor="middle" fill="#111" stroke="#111" stroke-width="0.3" >**</text>
<line x1="400.10" y1="174.40" x2="400.10" y2="183.30" stroke="#111" stroke-width="0.8" />
<line x1="398.80" y1="174.40" x2="401.40" y2="174.40" stroke="#111" stroke-width="0.8" />
<rect x="397.60" y="182.80" width="5.00" height="15.20" fill="#AB002A" />
<line x1="407.10" y1="137.50" x2="407.10" y2="149.00" stroke="#111" stroke-width="0.8" />
<line x1="405.80" y1="137.50" x2="408.40" y2="137.50" stroke="#111" stroke-width="0.8" />
<rect x="404.60" y="148.50" width="5.00" height="49.50" fill="#2B4982" />
<text transform="translate(407.10 137.20)" font-size="7.40" text-anchor="middle" fill="#111" stroke="#111" stroke-width="0.3" >**</text>
<text transform="translate(295.50 208.20) rotate(-45) scale(0.930 1)" font-size="7.61" text-anchor="end" fill="#111" stroke="#111" stroke-width="0.22" >BANK1</text>
<text transform="translate(314.30 208.20) rotate(-45) scale(0.864 1)" font-size="7.61" text-anchor="end" fill="#111" stroke="#111" stroke-width="0.22" >CCR6</text>
<text transform="translate(333.00 208.20) rotate(-45) scale(0.945 1)" font-size="7.61" text-anchor="end" fill="#111" stroke="#111" stroke-width="0.22" >CD69</text>
<text transform="translate(370.00 208.20) rotate(-45) scale(0.930 1)" font-size="7.61" text-anchor="end" fill="#111" stroke="#111" stroke-width="0.22" >BANK1</text>
<text transform="translate(388.80 208.20) rotate(-45) scale(0.864 1)" font-size="7.61" text-anchor="end" fill="#111" stroke="#111" stroke-width="0.22" >CCR6</text>
<text transform="translate(407.60 208.20) rotate(-45) scale(0.945 1)" font-size="7.61" text-anchor="end" fill="#111" stroke="#111" stroke-width="0.22" >CD69</text>
<text transform="translate(422.80 16.80) scale(0.854 1)" font-size="11.09" text-anchor="start" fill="#111" stroke="#111" stroke-width="0.22" >C</text>
<text transform="translate(460.00 40.80) rotate(-90) scale(0.881 1)" font-size="7.43" text-anchor="start" fill="#111" stroke="#111" stroke-width="0.22" >VEH</text>
<text transform="translate(472.00 40.80) rotate(-90) scale(0.906 1)" font-size="7.43" text-anchor="start" fill="#111" stroke="#111" stroke-width="0.22" >GSK591</text>
<defs><linearGradient id="gb" x1="0" y1="0" x2="0" y2="1"><stop offset="0" stop-color="#e9e9e9"/><stop offset="0.25" stop-color="#dedede"/><stop offset="0.55" stop-color="#cfcfcf"/><stop offset="0.6" stop-color="#b0b0b0"/><stop offset="0.8" stop-color="#b6b6b6"/><stop offset="1" stop-color="#c4c4c4"/></linearGradient><filter id="bl" x="-20%" y="-80%" width="140%" height="260%"><feGaussianBlur stdDeviation="0.6"/></filter><filter id="bl2" x="-30%" y="-50%" width="160%" height="200%"><feGaussianBlur stdDeviation="1.2"/></filter><filter id="bl3" x="-20%" y="-80%" width="140%" height="260%"><feGaussianBlur stdDeviation="0.9"/></filter><clipPath id="c1"><rect x="449.5" y="43" width="25.1" height="107"/></clipPath><clipPath id="c2"><rect x="449.5" y="153.4" width="25.1" height="14.4"/></clipPath><clipPath id="c3"><rect x="449.5" y="173" width="25.1" height="13.5"/></clipPath><clipPath id="c4"><rect x="449.5" y="191.7" width="25.1" height="14.4"/></clipPath></defs>
<rect x="449.50" y="43.00" width="25.10" height="107.00" fill="url(#gb)" />
<g clip-path="url(#c1)">
<rect x="451.50" y="56.20" width="9.00" height="0.90" fill="#bdbdbd" filter="url(#bl)"/>
<rect x="451.50" y="60.80" width="9.00" height="0.90" fill="#b8b8b8" filter="url(#bl)"/>
<rect x="451.00" y="64.40" width="10.50" height="1.20" fill="#5a5a5a" filter="url(#bl)"/>
<rect x="451.00" y="67.40" width="10.50" height="1.40" fill="#484848" filter="url(#bl)"/>
<rect x="452.00" y="70.60" width="8.00" height="0.80" fill="#c4c4c4" filter="url(#bl)"/>
<rect x="452.00" y="76.00" width="8.00" height="0.80" fill="#c6c6c6" filter="url(#bl)"/>
<rect x="464.00" y="66.50" width="7.00" height="1.00" fill="#d2d2d2" filter="url(#bl)"/>
<rect x="448.00" y="105.20" width="29.00" height="3.60" fill="#151515" filter="url(#bl3)"/>
<rect x="449.00" y="104.60" width="12.50" height="4.80" fill="#050505" filter="url(#bl3)"/>
<rect x="451.00" y="128.60" width="7.50" height="1.10" fill="#6e6e6e" filter="url(#bl)"/>
<ellipse cx="469.3" cy="122.6" rx="2.0" ry="1.8" fill="#d8d8d8" filter="url(#bl2)"/>
<ellipse cx="468" cy="137" rx="3.2" ry="5.5" fill="#cacaca" filter="url(#bl2)"/>
</g>
<rect x="449.5" y="43" width="25.100000000000023" height="107" fill="none" stroke="#111" stroke-width="1.3"/>
<text transform="translate(444.00 57.30) scale(1.010 1)" font-size="7.43" text-anchor="end" fill="#111" stroke="#111" stroke-width="0.22" >75kd</text>
<line x1="446.20" y1="54.70" x2="449.50" y2="54.70" stroke="#111" stroke-width="1.1" />
<text transform="translate(444.00 74.80) scale(1.010 1)" font-size="7.43" text-anchor="end" fill="#111" stroke="#111" stroke-width="0.22" >50kd</text>
<line x1="446.20" y1="72.20" x2="449.50" y2="72.20" stroke="#111" stroke-width="1.1" />
<text transform="translate(444.00 89.30) scale(1.010 1)" font-size="7.43" text-anchor="end" fill="#111" stroke="#111" stroke-width="0.22" >37kd</text>
<line x1="446.20" y1="86.70" x2="449.50" y2="86.70" stroke="#111" stroke-width="1.1" />
<text transform="translate(444.00 109.50) scale(1.010 1)" font-size="7.43" text-anchor="end" fill="#111" stroke="#111" stroke-width="0.22" >25kd</text>
<line x1="446.20" y1="106.90" x2="449.50" y2="106.90" stroke="#111" stroke-width="1.1" />
<text transform="translate(444.00 123.40) scale(1.010 1)" font-size="7.43" text-anchor="end" fill="#111" stroke="#111" stroke-width="0.22" >20kd</text>
<line x1="446.20" y1="120.80" x2="449.50" y2="120.80" stroke="#111" stroke-width="1.1" />
<text transform="translate(477.50 99.20) scale(0.929 1)" font-size="7.43" text-anchor="start" fill="#111" stroke="#111" stroke-width="0.22" >SYM10</text>
<rect x="449.50" y="153.40" width="25.10" height="14.40" fill="#b9b9b9" />
<g clip-path="url(#c2)">
<rect x="449.00" y="153.00" width="27.00" height="3.50" fill="#cdcdcd" filter="url(#bl3)"/>
<rect x="450.30" y="158.60" width="10.80" height="4.20" fill="#303030" filter="url(#bl3)"/>
<rect x="463.00" y="158.60" width="10.80" height="4.20" fill="#303030" filter="url(#bl3)"/>
<rect x="449.00" y="164.80" width="27.00" height="2.20" fill="#a2a2a2" filter="url(#bl)"/>
</g>
<rect x="449.5" y="153.4" width="25.100000000000023" height="14.4" fill="none" stroke="#111" stroke-width="1.3"/>
<text transform="translate(444.00 160.90) scale(1.004 1)" font-size="7.43" text-anchor="end" fill="#111" stroke="#111" stroke-width="0.22" >100kd</text>
<line x1="446.20" y1="158.30" x2="449.50" y2="158.30" stroke="#111" stroke-width="1.1" />
<text transform="translate(444.00 168.20) scale(1.010 1)" font-size="7.43" text-anchor="end" fill="#111" stroke="#111" stroke-width="0.22" >75kd</text>
<line x1="446.20" y1="165.60" x2="449.50" y2="165.60" stroke="#111" stroke-width="1.1" />
<text transform="translate(477.30 163.40) scale(0.896 1)" font-size="7.43" text-anchor="start" fill="#111" stroke="#111" stroke-width="0.22" >BCL6</text>
<rect x="449.50" y="173.00" width="25.10" height="13.50" fill="#e2e2e2" />
<g clip-path="url(#c3)">
<rect x="450.50" y="178.40" width="11.00" height="4.00" fill="#0c0c0c" filter="url(#bl3)"/>
<rect x="462.50" y="177.80" width="11.50" height="4.80" fill="#050505" filter="url(#bl3)"/>
<rect x="458.00" y="179.60" width="8.00" height="1.60" fill="#333" filter="url(#bl)"/>
</g>
<rect x="449.5" y="173" width="25.100000000000023" height="13.5" fill="none" stroke="#111" stroke-width="1.3"/>
<text transform="translate(444.00 183.40) scale(1.010 1)" font-size="7.43" text-anchor="end" fill="#111" stroke="#111" stroke-width="0.22" >75kd</text>
<line x1="446.20" y1="180.80" x2="449.50" y2="180.80" stroke="#111" stroke-width="1.1" />
<text transform="translate(477.30 182.60) scale(0.905 1)" font-size="7.43" text-anchor="start" fill="#111" stroke="#111" stroke-width="0.22" >PRMT5</text>
<rect x="449.50" y="191.70" width="25.10" height="14.40" fill="#dedede" />
<g clip-path="url(#c4)">
<rect x="450.50" y="198.80" width="24.00" height="1.60" fill="#a0a0a0" filter="url(#bl)"/>
</g>
<rect x="449.5" y="191.7" width="25.100000000000023" height="14.4" fill="none" stroke="#111" stroke-width="1.3"/>
<text transform="translate(444.00 196.30) scale(1.010 1)" font-size="7.43" text-anchor="end" fill="#111" stroke="#111" stroke-width="0.22" >50kd</text>
<line x1="446.20" y1="193.70" x2="449.50" y2="193.70" stroke="#111" stroke-width="1.1" />
<text transform="translate(444.00 205.90) scale(1.010 1)" font-size="7.43" text-anchor="end" fill="#111" stroke="#111" stroke-width="0.22" >37kd</text>
<line x1="446.20" y1="203.30" x2="449.50" y2="203.30" stroke="#111" stroke-width="1.1" />
<text transform="translate(477.30 201.40) scale(0.917 1)" font-size="7.43" text-anchor="start" fill="#111" stroke="#111" stroke-width="0.22" >ACTIN</text>
<text transform="translate(9.00 242.20) scale(0.981 1)" font-size="11.09" text-anchor="start" fill="#111" stroke="#111" stroke-width="0.22" >D</text>
<text transform="translate(27.30 297.00) rotate(-90) scale(0.989 1)" font-size="7.43" text-anchor="start" fill="#111" stroke="#111" stroke-width="0.22" >24 hr</text>
<text transform="translate(38.40 297.00) rotate(-90) scale(0.989 1)" font-size="7.43" text-anchor="start" fill="#111" stroke="#111" stroke-width="0.22" >96 hr</text>
<text transform="translate(50.30 297.00) rotate(-90) scale(0.989 1)" font-size="7.43" text-anchor="start" fill="#111" stroke="#111" stroke-width="0.22" >24 hr</text>
<text transform="translate(61.20 297.00) rotate(-90) scale(0.989 1)" font-size="7.43" text-anchor="start" fill="#111" stroke="#111" stroke-width="0.22" >96 hr</text>
<line x1="22.10" y1="276.00" x2="39.00" y2="276.00" stroke="#111" stroke-width="1.1" />
<line x1="43.60" y1="276.00" x2="61.00" y2="276.00" stroke="#111" stroke-width="1.1" />
<text transform="translate(27.30 273.50) rotate(-90) scale(1.023 1)" font-size="7.43" text-anchor="start" fill="#111" stroke="#111" stroke-width="0.22" >Down after</text>
<text transform="translate(38.40 273.50) rotate(-90) scale(0.906 1)" font-size="7.43" text-anchor="start" fill="#111" stroke="#111" stroke-width="0.22" >GSK591</text>
<text transform="translate(50.30 273.50) rotate(-90) scale(1.005 1)" font-size="7.43" text-anchor="start" fill="#111" stroke="#111" stroke-width="0.22" >Up after</text>
<text transform="translate(61.20 273.50) rotate(-90) scale(0.906 1)" font-size="7.43" text-anchor="start" fill="#111" stroke="#111" stroke-width="0.22" >GSK591</text>
<rect x="18.30" y="299.50" width="45.20" height="118.00" fill="#000" />
<rect x="51.95" y="300.00" width="11.05" height="9.05" fill="#A50029" />
<text transform="translate(66.20 307.10) scale(0.942 1)" font-size="7.43" text-anchor="start" fill="#111" stroke="#111" stroke-width="0.22" >BCL6 repressed</text>
<rect x="51.95" y="309.00" width="11.05" height="9.05" fill="#A50029" />
<text transform="translate(66.20 316.10) scale(0.910 1)" font-size="7.43" text-anchor="start" fill="#111" stroke="#111" stroke-width="0.22" >MHC class II (DLBCL)</text>
<rect x="40.90" y="318.00" width="11.10" height="9.05" fill="#A50029" />
<rect x="51.95" y="318.00" width="11.05" height="9.05" fill="#D79488" />
<text transform="translate(66.20 325.10) scale(0.999 1)" font-size="7.43" text-anchor="start" fill="#111" stroke="#111" stroke-width="0.22" >Myc targets down after Myc overexpression</text>
<rect x="18.80" y="327.00" width="11.10" height="9.05" fill="#A50029" />
<rect x="29.85" y="327.00" width="11.10" height="9.05" fill="#D79488" />
<rect x="51.95" y="327.00" width="11.05" height="9.05" fill="#BF4E4E" />
<text transform="translate(66.20 334.10) scale(0.980 1)" font-size="7.43" text-anchor="start" fill="#111" stroke="#111" stroke-width="0.22" >GCB Bivalent promoters</text>
<rect x="40.90" y="336.00" width="11.10" height="9.05" fill="#BF4E4E" />
<rect x="51.95" y="336.00" width="11.05" height="9.05" fill="#A50029" />
<text transform="translate(66.20 343.10) scale(0.943 1)" font-size="7.43" text-anchor="start" fill="#111" stroke="#111" stroke-width="0.22" >BCL6 ChIPseq targets</text>
<rect x="40.90" y="345.00" width="11.10" height="9.05" fill="#A50029" />
<rect x="51.95" y="345.00" width="11.05" height="9.05" fill="#BF4E4E" />
<text transform="translate(66.20 352.10) scale(0.932 1)" font-size="7.43" text-anchor="start" fill="#111" stroke="#111" stroke-width="0.22" >BCL6-SMRT distal enhancers (GC B cells)</text>
<rect x="51.95" y="354.00" width="11.05" height="9.05" fill="#EACFC6" />
<text transform="translate(66.20 361.10) scale(0.970 1)" font-size="7.43" text-anchor="start" fill="#111" stroke="#111" stroke-width="0.22" >Upregulated in BCL6-RD2mut (OCI-LY1)</text>
<rect x="40.90" y="363.00" width="11.10" height="9.05" fill="#D79488" />
<rect x="51.95" y="363.00" width="11.05" height="9.05" fill="#EACFC6" />
<text transform="translate(66.20 370.10) scale(0.955 1)" font-size="7.43" text-anchor="start" fill="#111" stroke="#111" stroke-width="0.22" >Overlap of FX1 signature and GCB and DLBCL</text>
<rect x="40.90" y="372.00" width="11.10" height="9.05" fill="#BF4E4E" />
<rect x="51.95" y="372.00" width="11.05" height="9.05" fill="#D79488" />
<text transform="translate(66.20 379.10) scale(0.975 1)" font-size="7.43" text-anchor="start" fill="#111" stroke="#111" stroke-width="0.22" >BCL6 ternary complexes in promoters (OCI-LY1)</text>
<rect x="40.90" y="381.00" width="11.10" height="9.05" fill="#D79488" />
<rect x="51.95" y="381.00" width="11.05" height="9.05" fill="#EACFC6" />
<text transform="translate(66.20 388.10) scale(0.966 1)" font-size="7.43" text-anchor="start" fill="#111" stroke="#111" stroke-width="0.22" >BCL6-SMRT in intronic/distal enhancers (OCI-LY1)</text>
<rect x="40.90" y="390.00" width="11.10" height="9.05" fill="#D79488" />
<rect x="51.95" y="390.00" width="11.05" height="9.05" fill="#EACFC6" />
<text transform="translate(66.20 397.10) scale(0.959 1)" font-size="7.43" text-anchor="start" fill="#111" stroke="#111" stroke-width="0.22" >p300 enhancers (OCI-LY1)</text>
<rect x="51.95" y="399.00" width="11.05" height="9.05" fill="#D79488" />
<text transform="translate(66.20 406.10) scale(0.964 1)" font-size="7.43" text-anchor="start" fill="#111" stroke="#111" stroke-width="0.22" >Downregulated in CREBBP<tspan font-size="5.5" dy="-2.9">MUT</tspan><tspan dy="2.9"> (FL cohort 1)</tspan></text>
<rect x="51.95" y="408.00" width="11.05" height="9.05" fill="#BF4E4E" />
<text transform="translate(66.20 415.10) scale(0.964 1)" font-size="7.43" text-anchor="start" fill="#111" stroke="#111" stroke-width="0.22" >Downregulated in CREBBP<tspan font-size="5.5" dy="-2.9">MUT</tspan><tspan dy="2.9"> (FL cohort 2)</tspan></text>
<text transform="translate(114.00 254.60) scale(1.000 1)" font-size="7.33" text-anchor="middle" fill="#111" stroke="#111" stroke-width="0.22" >p value</text>
<rect x="89.60" y="259.10" width="48.40" height="7.80" fill="#000" />
<rect x="99.90" y="259.80" width="9.05" height="6.40" fill="#A50029" />
<rect x="108.90" y="259.80" width="9.55" height="6.40" fill="#BF4E4E" />
<rect x="118.40" y="259.80" width="9.45" height="6.40" fill="#D79488" />
<rect x="127.80" y="259.80" width="8.85" height="6.40" fill="#EACFC6" />
<text transform="translate(91.20 270.60) rotate(-90) scale(0.944 1)" font-size="7.14" text-anchor="end" fill="#111" stroke="#111" stroke-width="0.22" >1.0</text>
<text transform="translate(100.67 270.60) rotate(-90) scale(0.954 1)" font-size="7.14" text-anchor="end" fill="#111" stroke="#111" stroke-width="0.22" >0.05</text>
<text transform="translate(110.14 270.60) rotate(-90) scale(0.975 1)" font-size="7.14" text-anchor="end" fill="#111" stroke="#111" stroke-width="0.22" >1e-5</text>
<text transform="translate(119.61 270.60) rotate(-90) scale(0.976 1)" font-size="7.14" text-anchor="end" fill="#111" stroke="#111" stroke-width="0.22" >1e-10</text>
<text transform="translate(129.08 270.60) rotate(-90) scale(0.976 1)" font-size="7.14" text-anchor="end" fill="#111" stroke="#111" stroke-width="0.22" >1e-20</text>
<text transform="translate(138.55 270.60) rotate(-90) scale(0.977 1)" font-size="7.14" text-anchor="end" fill="#111" stroke="#111" stroke-width="0.22" >1e-100</text>
<text transform="translate(10.40 433.90) scale(0.785 1)" font-size="11.09" text-anchor="start" fill="#111" stroke="#111" stroke-width="0.22" >E</text>
<rect x="59.50" y="425.00" width="5.60" height="5.00" fill="#2B4982" />
<text transform="translate(68.00 430.10) scale(0.993 1)" font-size="6.81" text-anchor="start" fill="#111" stroke="#111" stroke-width="0.22" >BCL6-dependent</text>
<rect x="59.50" y="436.30" width="5.60" height="5.00" fill="#AB002A" />
<text transform="translate(68.00 441.40) scale(1.001 1)" font-size="6.81" text-anchor="start" fill="#111" stroke="#111" stroke-width="0.22" >BCL6-independent</text>
<line x1="49.30" y1="445.40" x2="49.30" y2="517.60" stroke="#111" stroke-width="1.2" />
<line x1="47.10" y1="445.80" x2="49.30" y2="445.80" stroke="#111" stroke-width="0.9" />
<text transform="translate(43.90 448.40) scale(0.944 1)" font-size="7.24" text-anchor="end" fill="#111" stroke="#111" stroke-width="0.22" >0.0</text>
<line x1="47.10" y1="457.68" x2="49.30" y2="457.68" stroke="#111" stroke-width="0.9" />
<text transform="translate(43.90 460.28) scale(0.944 1)" font-size="7.24" text-anchor="end" fill="#111" stroke="#111" stroke-width="0.22" >0.2</text>
<line x1="47.10" y1="469.56" x2="49.30" y2="469.56" stroke="#111" stroke-width="0.9" />
<text transform="translate(43.90 472.16) scale(0.944 1)" font-size="7.24" text-anchor="end" fill="#111" stroke="#111" stroke-width="0.22" >0.4</text>
<line x1="47.10" y1="481.44" x2="49.30" y2="481.44" stroke="#111" stroke-width="0.9" />
<text transform="translate(43.90 484.04) scale(0.944 1)" font-size="7.24" text-anchor="end" fill="#111" stroke="#111" stroke-width="0.22" >0.6</text>
<line x1="47.10" y1="493.32" x2="49.30" y2="493.32" stroke="#111" stroke-width="0.9" />
<text transform="translate(43.90 495.92) scale(0.944 1)" font-size="7.24" text-anchor="end" fill="#111" stroke="#111" stroke-width="0.22" >0.8</text>
<line x1="47.10" y1="505.20" x2="49.30" y2="505.20" stroke="#111" stroke-width="0.9" />
<text transform="translate(43.90 507.80) scale(0.944 1)" font-size="7.24" text-anchor="end" fill="#111" stroke="#111" stroke-width="0.22" >1.0</text>
<line x1="47.10" y1="517.08" x2="49.30" y2="517.08" stroke="#111" stroke-width="0.9" />
<text transform="translate(43.90 519.68) scale(0.944 1)" font-size="7.24" text-anchor="end" fill="#111" stroke="#111" stroke-width="0.22" >1.2</text>
<rect x="53.00" y="445.80" width="7.00" height="1.19" fill="#2B4982" />
<line x1="56.50" y1="517.00" x2="56.50" y2="519.60" stroke="#111" stroke-width="0.9" />
<text transform="translate(59.90 527.00) rotate(-45) scale(0.928 1)" font-size="7.24" text-anchor="end" fill="#111" stroke="#111" stroke-width="0.22" >SUDHL6</text>
<rect x="63.85" y="445.80" width="7.00" height="6.24" fill="#AB002A" />
<line x1="67.35" y1="517.00" x2="67.35" y2="519.60" stroke="#111" stroke-width="0.9" />
<text transform="translate(70.75 527.00) rotate(-45) scale(0.911 1)" font-size="7.24" text-anchor="end" fill="#111" stroke="#111" stroke-width="0.22" >TOLEDO</text>
<rect x="74.70" y="445.80" width="7.00" height="6.24" fill="#AB002A" />
<line x1="78.20" y1="517.00" x2="78.20" y2="519.60" stroke="#111" stroke-width="0.9" />
<text transform="translate(81.60 527.00) rotate(-45) scale(0.826 1)" font-size="7.24" text-anchor="end" fill="#111" stroke="#111" stroke-width="0.22" >PFEIFFER</text>
<rect x="85.55" y="445.80" width="7.00" height="13.66" fill="#2B4982" />
<line x1="89.05" y1="517.00" x2="89.05" y2="519.60" stroke="#111" stroke-width="0.9" />
<text transform="translate(92.45 527.00) rotate(-45) scale(0.888 1)" font-size="7.24" text-anchor="end" fill="#111" stroke="#111" stroke-width="0.22" >FARAGE</text>
<rect x="96.40" y="445.80" width="7.00" height="16.63" fill="#2B4982" />
<line x1="99.90" y1="517.00" x2="99.90" y2="519.60" stroke="#111" stroke-width="0.9" />
<text transform="translate(103.30 527.00) rotate(-45) scale(0.931 1)" font-size="7.24" text-anchor="end" fill="#111" stroke="#111" stroke-width="0.22" >OCI-LY7</text>
<rect x="107.25" y="445.80" width="7.00" height="19.60" fill="#2B4982" />
<line x1="110.75" y1="517.00" x2="110.75" y2="519.60" stroke="#111" stroke-width="0.9" />
<text transform="translate(114.15 527.00) rotate(-45) scale(0.931 1)" font-size="7.24" text-anchor="end" fill="#111" stroke="#111" stroke-width="0.22" >OCI-LY1</text>
<rect x="118.10" y="445.80" width="7.00" height="25.54" fill="#2B4982" />
<line x1="121.60" y1="517.00" x2="121.60" y2="519.60" stroke="#111" stroke-width="0.9" />
<text transform="translate(125.00 527.00) rotate(-45) scale(0.928 1)" font-size="7.24" text-anchor="end" fill="#111" stroke="#111" stroke-width="0.22" >SUDHL4</text>
<rect x="128.95" y="445.80" width="7.00" height="65.34" fill="#AB002A" />
<line x1="132.45" y1="517.00" x2="132.45" y2="519.60" stroke="#111" stroke-width="0.9" />
<text transform="translate(135.85 527.00) rotate(-45) scale(0.911 1)" font-size="7.24" text-anchor="end" fill="#111" stroke="#111" stroke-width="0.22" >KARPAS 422</text>
<line x1="48.80" y1="446.00" x2="139.20" y2="446.00" stroke="#111" stroke-width="1.2" />
<line x1="48.80" y1="517.00" x2="139.20" y2="517.00" stroke="#111" stroke-width="1.2" />
<text transform="translate(21.60 481.60) rotate(-90) scale(0.953 1)" font-size="8.98" text-anchor="middle" fill="#111" stroke="#111" stroke-width="0.22" >GI<tspan font-size="6.2" dy="1.8">50</tspan><tspan dy="-1.8"> GSK591  µM</tspan></text>
<text transform="translate(9.20 574.00) scale(0.884 1)" font-size="11.09" text-anchor="start" fill="#111" stroke="#111" stroke-width="0.22" >G</text>
<circle cx="56.30" cy="568.00" r="1.85" fill="#2B4982"/>
<text transform="translate(61.50 570.50) scale(0.931 1)" font-size="6.81" text-anchor="start" fill="#111" stroke="#111" stroke-width="0.22" >OCI-LY1</text>
<rect x="54.45" y="576.95" width="3.70" height="3.70" fill="#2B4982" />
<text transform="translate(61.50 581.30) scale(0.931 1)" font-size="6.81" text-anchor="start" fill="#111" stroke="#111" stroke-width="0.22" >OCI-LY7</text>
<path d="M54.60 591.20L58.00 591.20L56.30 587.80Z" fill="#2B4982"/>
<text transform="translate(61.50 592.00) scale(0.928 1)" font-size="6.81" text-anchor="start" fill="#111" stroke="#111" stroke-width="0.22" >SUDHL4</text>
<path d="M54.60 599.30L58.00 599.30L56.30 602.70Z" fill="#2B4982"/>
<text transform="translate(61.50 603.50) scale(0.928 1)" font-size="6.81" text-anchor="start" fill="#111" stroke="#111" stroke-width="0.22" >SUDHL6</text>
<path d="M92.10 568.00L93.80 566.30L95.50 568.00L93.80 569.70Z" fill="#2B4982"/>
<text transform="translate(99.00 570.50) scale(0.888 1)" font-size="6.81" text-anchor="start" fill="#111" stroke="#111" stroke-width="0.22" >FARAGE</text>
<circle cx="93.80" cy="578.80" r="1.85" fill="#AB002A"/>
<text transform="translate(99.00 581.30) scale(0.911 1)" font-size="6.81" text-anchor="start" fill="#111" stroke="#111" stroke-width="0.22" >KARPAS 422</text>
<rect x="91.95" y="587.65" width="3.70" height="3.70" fill="#AB002A" />
<text transform="translate(99.00 592.00) scale(0.911 1)" font-size="6.81" text-anchor="start" fill="#111" stroke="#111" stroke-width="0.22" >TOLEDO</text>
<rect x="49.30" y="619.50" width="95.50" height="9.30" fill="#e6e6e6" />
<line x1="49.30" y1="619.50" x2="144.80" y2="619.50" stroke="#222" stroke-width="0.9" stroke-dasharray="1 1.2"/>
<line x1="49.30" y1="628.60" x2="144.80" y2="628.60" stroke="#222" stroke-width="0.9" stroke-dasharray="1 1.2"/>
<line x1="49.30" y1="598.50" x2="49.30" y2="670.90" stroke="#111" stroke-width="1.2" />
<line x1="46.70" y1="670.30" x2="49.30" y2="670.30" stroke="#111" stroke-width="1.08" />
<text transform="translate(44.30 672.88) scale(0.944 1)" font-size="7.24" text-anchor="end" fill="#111" stroke="#111" stroke-width="0.22" >0.0</text>
<line x1="46.70" y1="647.10" x2="49.30" y2="647.10" stroke="#111" stroke-width="1.08" />
<text transform="translate(44.30 649.68) scale(0.944 1)" font-size="7.24" text-anchor="end" fill="#111" stroke="#111" stroke-width="0.22" >0.5</text>
<line x1="46.70" y1="623.90" x2="49.30" y2="623.90" stroke="#111" stroke-width="1.08" />
<text transform="translate(44.30 626.48) scale(0.944 1)" font-size="7.24" text-anchor="end" fill="#111" stroke="#111" stroke-width="0.22" >1.0</text>
<line x1="46.70" y1="600.70" x2="49.30" y2="600.70" stroke="#111" stroke-width="1.08" />
<text transform="translate(44.30 603.28) scale(0.944 1)" font-size="7.24" text-anchor="end" fill="#111" stroke="#111" stroke-width="0.22" >1.5</text>
<line x1="48.80" y1="670.30" x2="144.80" y2="670.30" stroke="#111" stroke-width="1.0" />
<line x1="57.80" y1="637.30" x2="57.80" y2="647.00" stroke="#111" stroke-width="0.9" />
<line x1="56.20" y1="637.30" x2="59.40" y2="637.30" stroke="#111" stroke-width="0.9" />
<line x1="56.20" y1="647.00" x2="59.40" y2="647.00" stroke="#111" stroke-width="0.9" />
<circle cx="57.80" cy="642.30" r="1.30" fill="#2B4982"/>
<line x1="70.80" y1="633.50" x2="70.80" y2="643.30" stroke="#111" stroke-width="0.9" />
<line x1="69.20" y1="633.50" x2="72.40" y2="633.50" stroke="#111" stroke-width="0.9" />
<line x1="69.20" y1="643.30" x2="72.40" y2="643.30" stroke="#111" stroke-width="0.9" />
<rect x="69.50" y="637.00" width="2.60" height="2.60" fill="#2B4982" />
<path d="M82.50 631.10L85.10 631.10L83.80 628.50Z" fill="#2B4982"/>
<line x1="97.00" y1="629.30" x2="97.00" y2="650.30" stroke="#111" stroke-width="0.9" />
<line x1="95.40" y1="629.30" x2="98.60" y2="629.30" stroke="#111" stroke-width="0.9" />
<line x1="95.40" y1="650.30" x2="98.60" y2="650.30" stroke="#111" stroke-width="0.9" />
<path d="M95.70 637.70L98.30 637.70L97.00 640.30Z" fill="#2B4982"/>
<path d="M107.90 637.30L109.50 635.70L111.10 637.30L109.50 638.90Z" fill="#2B4982"/>
<line x1="122.80" y1="640.50" x2="122.80" y2="647.00" stroke="#111" stroke-width="0.9" />
<line x1="121.20" y1="640.50" x2="124.40" y2="640.50" stroke="#111" stroke-width="0.9" />
<line x1="121.20" y1="647.00" x2="124.40" y2="647.00" stroke="#111" stroke-width="0.9" />
<circle cx="122.80" cy="644.00" r="1.30" fill="#AB002A"/>
<line x1="136.00" y1="612.80" x2="136.00" y2="627.30" stroke="#111" stroke-width="0.9" />
<line x1="134.40" y1="612.80" x2="137.60" y2="612.80" stroke="#111" stroke-width="0.9" />
<line x1="134.40" y1="627.30" x2="137.60" y2="627.30" stroke="#111" stroke-width="0.9" />
<rect x="134.70" y="618.70" width="2.60" height="2.60" fill="#AB002A" />
<text transform="translate(15.80 634.30) rotate(-90) scale(1.028 1)" font-size="8.98" text-anchor="middle" fill="#111" stroke="#111" stroke-width="0.22" >Combination index</text>
<text transform="translate(25.60 634.30) rotate(-90) scale(0.924 1)" font-size="8.98" text-anchor="middle" fill="#111" stroke="#111" stroke-width="0.22" >(FX1 and GSK591)</text>
<line x1="147.00" y1="615.40" x2="147.00" y2="601.50" stroke="#111" stroke-width="1.2" />
<path d="M144.9 603.0L147 598.4L149.1 603.0Z" fill="#111"/>
<text transform="translate(150.20 604.60) scale(1.004 1)" font-size="7.33" text-anchor="start" fill="#111" stroke="#111" stroke-width="0.22" >Infra-</text>
<text transform="translate(150.60 614.20) scale(1.047 1)" font-size="7.33" text-anchor="start" fill="#111" stroke="#111" stroke-width="0.22" >additive</text>
<text transform="translate(150.20 626.80) scale(1.053 1)" font-size="7.33" text-anchor="start" fill="#111" stroke="#111" stroke-width="0.22" >Additive</text>
<line x1="147.00" y1="633.80" x2="147.00" y2="643.60" stroke="#111" stroke-width="1.2" />
<path d="M144.9 642.6L147 647.2L149.1 642.6Z" fill="#111"/>
<text transform="translate(150.20 643.20) scale(0.990 1)" font-size="7.33" text-anchor="start" fill="#111" stroke="#111" stroke-width="0.22" >Synergistic</text>
<text transform="translate(247.40 241.90) scale(0.848 1)" font-size="11.09" text-anchor="start" fill="#111" stroke="#111" stroke-width="0.22" >F</text>
<line x1="280.40" y1="243.30" x2="280.40" y2="368.60" stroke="#111" stroke-width="1.2" />
<line x1="277.80" y1="368.00" x2="280.40" y2="368.00" stroke="#111" stroke-width="1.08" />
<text transform="translate(275.40 370.58) scale(0.981 1)" font-size="7.24" text-anchor="end" fill="#111" stroke="#111" stroke-width="0.22" >0</text>
<line x1="277.80" y1="337.40" x2="280.40" y2="337.40" stroke="#111" stroke-width="1.08" />
<text transform="translate(275.40 339.98) scale(0.981 1)" font-size="7.24" text-anchor="end" fill="#111" stroke="#111" stroke-width="0.22" >2</text>
<line x1="277.80" y1="306.80" x2="280.40" y2="306.80" stroke="#111" stroke-width="1.08" />
<text transform="translate(275.40 309.38) scale(0.981 1)" font-size="7.24" text-anchor="end" fill="#111" stroke="#111" stroke-width="0.22" >4</text>
<line x1="277.80" y1="276.20" x2="280.40" y2="276.20" stroke="#111" stroke-width="1.08" />
<text transform="translate(275.40 278.78) scale(0.981 1)" font-size="7.24" text-anchor="end" fill="#111" stroke="#111" stroke-width="0.22" >6</text>
<line x1="277.80" y1="245.60" x2="280.40" y2="245.60" stroke="#111" stroke-width="1.08" />
<text transform="translate(275.40 248.18) scale(0.981 1)" font-size="7.24" text-anchor="end" fill="#111" stroke="#111" stroke-width="0.22" >8</text>
<text transform="translate(252.90 306.00) rotate(-90) scale(0.991 1)" font-size="8.98" text-anchor="middle" fill="#111" stroke="#111" stroke-width="0.22" >mRNA abundance</text>
<text transform="translate(265.10 305.30) rotate(-90) scale(0.956 1)" font-size="8.98" text-anchor="middle" fill="#111" stroke="#111" stroke-width="0.22" >rel to VEH, norm to RPL13A</text>
<text transform="translate(392.20 238.20) scale(0.931 1)" font-size="7.38" text-anchor="middle" fill="#111" stroke="#111" stroke-width="0.22" >OCI-LY1</text>
<rect x="284.20" y="247.30" width="8.60" height="4.60" fill="#AB002A" />
<text transform="translate(295.80 252.30) scale(0.881 1)" font-size="6.67" text-anchor="start" fill="#111" stroke="#111" stroke-width="0.22" >VEH</text>
<rect x="325.20" y="247.30" width="8.60" height="4.60" fill="#64A82E" />
<text transform="translate(337.00 252.30) scale(0.911 1)" font-size="6.67" text-anchor="start" fill="#111" stroke="#111" stroke-width="0.22" >FX1</text>
<rect x="284.20" y="258.00" width="8.60" height="4.60" fill="#2B4982" />
<text transform="translate(295.80 263.10) scale(0.906 1)" font-size="6.67" text-anchor="start" fill="#111" stroke="#111" stroke-width="0.22" >GSK591</text>
<rect x="325.20" y="258.00" width="8.60" height="4.60" fill="#4C1C66" />
<text transform="translate(337.00 263.10) scale(0.925 1)" font-size="6.67" text-anchor="start" fill="#111" stroke="#111" stroke-width="0.22" >FX1+GSK591</text>
<line x1="279.80" y1="368.00" x2="504.30" y2="368.00" stroke="#111" stroke-width="1.2" />
<line x1="287.90" y1="368.00" x2="287.90" y2="370.60" stroke="#111" stroke-width="1.08" />
<line x1="302.71" y1="368.00" x2="302.71" y2="370.60" stroke="#111" stroke-width="1.08" />
<line x1="317.52" y1="368.00" x2="317.52" y2="370.60" stroke="#111" stroke-width="1.08" />
<line x1="332.33" y1="368.00" x2="332.33" y2="370.60" stroke="#111" stroke-width="1.08" />
<line x1="347.14" y1="368.00" x2="347.14" y2="370.60" stroke="#111" stroke-width="1.08" />
<line x1="361.95" y1="368.00" x2="361.95" y2="370.60" stroke="#111" stroke-width="1.08" />
<line x1="376.76" y1="368.00" x2="376.76" y2="370.60" stroke="#111" stroke-width="1.08" />
<line x1="391.57" y1="368.00" x2="391.57" y2="370.60" stroke="#111" stroke-width="1.08" />
<line x1="406.38" y1="368.00" x2="406.38" y2="370.60" stroke="#111" stroke-width="1.08" />
<line x1="421.19" y1="368.00" x2="421.19" y2="370.60" stroke="#111" stroke-width="1.08" />
<line x1="436.00" y1="368.00" x2="436.00" y2="370.60" stroke="#111" stroke-width="1.08" />
<line x1="450.81" y1="368.00" x2="450.81" y2="370.60" stroke="#111" stroke-width="1.08" />
<line x1="465.62" y1="368.00" x2="465.62" y2="370.60" stroke="#111" stroke-width="1.08" />
<line x1="480.43" y1="368.00" x2="480.43" y2="370.60" stroke="#111" stroke-width="1.08" />
<line x1="495.24" y1="368.00" x2="495.24" y2="370.60" stroke="#111" stroke-width="1.08" />
<line x1="280.40" y1="352.50" x2="504.30" y2="352.50" stroke="#666" stroke-width="0.9" stroke-dasharray="1 1.3"/>
<line x1="283.20" y1="351.17" x2="283.20" y2="353.00" stroke="#222" stroke-width="0.5" />
<rect x="282.00" y="352.70" width="2.40" height="15.30" fill="#AB002A" />
<line x1="286.35" y1="343.21" x2="286.35" y2="345.35" stroke="#222" stroke-width="0.5" />
<rect x="285.15" y="345.05" width="2.40" height="22.95" fill="#2B4982" />
<text transform="translate(286.35 344.51)" font-size="6.60" text-anchor="middle" fill="#111" stroke="#111" stroke-width="0.2" >**</text>
<line x1="289.52" y1="344.28" x2="289.52" y2="346.88" stroke="#222" stroke-width="0.5" />
<rect x="288.35" y="346.58" width="2.35" height="21.42" fill="#64A82E" />
<line x1="292.72" y1="336.48" x2="292.72" y2="339.54" stroke="#222" stroke-width="0.5" />
<rect x="291.55" y="339.24" width="2.35" height="28.76" fill="#4C1C66" />
<text transform="translate(293.62 337.78)" font-size="6.60" text-anchor="middle" fill="#111" stroke="#111" stroke-width="0.2" >**</text>
<text transform="translate(291.50 377.80) rotate(-45) scale(0.963 1)" font-size="7.43" text-anchor="end" fill="#111" stroke="#111" stroke-width="0.22" >ATXN1</text>
<line x1="298.01" y1="351.17" x2="298.01" y2="353.00" stroke="#222" stroke-width="0.5" />
<rect x="296.81" y="352.70" width="2.40" height="15.30" fill="#AB002A" />
<line x1="301.16" y1="351.48" x2="301.16" y2="353.00" stroke="#222" stroke-width="0.5" />
<rect x="299.96" y="352.70" width="2.40" height="15.30" fill="#2B4982" />
<line x1="304.33" y1="350.10" x2="304.33" y2="352.24" stroke="#222" stroke-width="0.5" />
<rect x="303.16" y="351.94" width="2.35" height="16.06" fill="#64A82E" />
<line x1="307.53" y1="348.88" x2="307.53" y2="351.47" stroke="#222" stroke-width="0.5" />
<rect x="306.36" y="351.17" width="2.35" height="16.83" fill="#4C1C66" />
<text transform="translate(306.31 377.80) rotate(-45) scale(0.930 1)" font-size="7.43" text-anchor="end" fill="#111" stroke="#111" stroke-width="0.22" >BANK1</text>
<line x1="312.82" y1="351.17" x2="312.82" y2="353.00" stroke="#222" stroke-width="0.5" />
<rect x="311.62" y="352.70" width="2.40" height="15.30" fill="#AB002A" />
<line x1="315.97" y1="330.51" x2="315.97" y2="333.57" stroke="#222" stroke-width="0.5" />
<rect x="314.77" y="333.27" width="2.40" height="34.73" fill="#2B4982" />
<text transform="translate(315.97 331.81)" font-size="6.60" text-anchor="middle" fill="#111" stroke="#111" stroke-width="0.2" >**</text>
<line x1="319.14" y1="341.68" x2="319.14" y2="343.82" stroke="#222" stroke-width="0.5" />
<rect x="317.97" y="343.52" width="2.35" height="24.48" fill="#64A82E" />
<text transform="translate(319.14 342.98)" font-size="6.60" text-anchor="middle" fill="#111" stroke="#111" stroke-width="0.2" >**</text>
<line x1="322.34" y1="321.79" x2="322.34" y2="323.62" stroke="#222" stroke-width="0.5" />
<rect x="321.17" y="323.32" width="2.35" height="44.68" fill="#4C1C66" />
<text transform="translate(323.24 323.09)" font-size="6.60" text-anchor="middle" fill="#111" stroke="#111" stroke-width="0.2" >**</text>
<text transform="translate(321.12 377.80) rotate(-45) scale(0.864 1)" font-size="7.43" text-anchor="end" fill="#111" stroke="#111" stroke-width="0.22" >CCR6</text>
<line x1="327.63" y1="351.17" x2="327.63" y2="353.00" stroke="#222" stroke-width="0.5" />
<rect x="326.43" y="352.70" width="2.40" height="15.30" fill="#AB002A" />
<line x1="330.78" y1="345.05" x2="330.78" y2="348.41" stroke="#222" stroke-width="0.5" />
<rect x="329.58" y="348.11" width="2.40" height="19.89" fill="#2B4982" />
<line x1="333.95" y1="349.64" x2="333.95" y2="353.76" stroke="#222" stroke-width="0.5" />
<rect x="332.78" y="353.46" width="2.35" height="14.54" fill="#64A82E" />
<line x1="337.15" y1="303.13" x2="337.15" y2="308.02" stroke="#222" stroke-width="0.5" />
<rect x="335.98" y="307.72" width="2.35" height="60.28" fill="#4C1C66" />
<text transform="translate(338.05 304.43)" font-size="6.60" text-anchor="middle" fill="#111" stroke="#111" stroke-width="0.2" >**</text>
<text transform="translate(335.93 377.80) rotate(-45) scale(0.945 1)" font-size="7.43" text-anchor="end" fill="#111" stroke="#111" stroke-width="0.22" >CD69</text>
<line x1="342.44" y1="351.17" x2="342.44" y2="353.00" stroke="#222" stroke-width="0.5" />
<rect x="341.24" y="352.70" width="2.40" height="15.30" fill="#AB002A" />
<line x1="345.59" y1="355.76" x2="345.59" y2="357.90" stroke="#222" stroke-width="0.5" />
<rect x="344.39" y="357.60" width="2.40" height="10.40" fill="#2B4982" />
<line x1="348.76" y1="350.71" x2="348.76" y2="352.54" stroke="#222" stroke-width="0.5" />
<rect x="347.59" y="352.24" width="2.35" height="15.76" fill="#64A82E" />
<line x1="351.96" y1="351.17" x2="351.96" y2="353.76" stroke="#222" stroke-width="0.5" />
<rect x="350.79" y="353.46" width="2.35" height="14.54" fill="#4C1C66" />
<text transform="translate(350.74 377.80) rotate(-45) scale(0.936 1)" font-size="7.43" text-anchor="end" fill="#111" stroke="#111" stroke-width="0.22" >CDKN1A</text>
<line x1="357.25" y1="351.17" x2="357.25" y2="353.00" stroke="#222" stroke-width="0.5" />
<rect x="356.05" y="352.70" width="2.40" height="15.30" fill="#AB002A" />
<line x1="360.40" y1="325.93" x2="360.40" y2="329.59" stroke="#222" stroke-width="0.5" />
<rect x="359.20" y="329.29" width="2.40" height="38.71" fill="#2B4982" />
<text transform="translate(360.40 327.23)" font-size="6.60" text-anchor="middle" fill="#111" stroke="#111" stroke-width="0.2" >**</text>
<line x1="363.57" y1="347.19" x2="363.57" y2="349.33" stroke="#222" stroke-width="0.5" />
<rect x="362.40" y="349.03" width="2.35" height="18.97" fill="#64A82E" />
<line x1="366.77" y1="312.00" x2="366.77" y2="316.89" stroke="#222" stroke-width="0.5" />
<rect x="365.60" y="316.59" width="2.35" height="51.41" fill="#4C1C66" />
<text transform="translate(367.67 313.30)" font-size="6.60" text-anchor="middle" fill="#111" stroke="#111" stroke-width="0.2" >**</text>
<text transform="translate(365.55 377.80) rotate(-45) scale(0.873 1)" font-size="7.43" text-anchor="end" fill="#111" stroke="#111" stroke-width="0.22" >CXCR4</text>
<line x1="372.06" y1="351.17" x2="372.06" y2="353.00" stroke="#222" stroke-width="0.5" />
<rect x="370.86" y="352.70" width="2.40" height="15.30" fill="#AB002A" />
<line x1="375.21" y1="330.82" x2="375.21" y2="334.18" stroke="#222" stroke-width="0.5" />
<rect x="374.01" y="333.88" width="2.40" height="34.12" fill="#2B4982" />
<text transform="translate(375.21 332.12)" font-size="6.60" text-anchor="middle" fill="#111" stroke="#111" stroke-width="0.2" >**</text>
<line x1="378.38" y1="352.09" x2="378.38" y2="353.92" stroke="#222" stroke-width="0.5" />
<rect x="377.21" y="353.62" width="2.35" height="14.38" fill="#64A82E" />
<line x1="381.58" y1="326.23" x2="381.58" y2="331.12" stroke="#222" stroke-width="0.5" />
<rect x="380.41" y="330.82" width="2.35" height="37.18" fill="#4C1C66" />
<text transform="translate(382.48 327.53)" font-size="6.60" text-anchor="middle" fill="#111" stroke="#111" stroke-width="0.2" >**</text>
<text transform="translate(380.36 377.80) rotate(-45) scale(0.876 1)" font-size="7.43" text-anchor="end" fill="#111" stroke="#111" stroke-width="0.22" >ETV6</text>
<line x1="386.87" y1="351.17" x2="386.87" y2="353.00" stroke="#222" stroke-width="0.5" />
<rect x="385.67" y="352.70" width="2.40" height="15.30" fill="#AB002A" />
<line x1="390.02" y1="342.45" x2="390.02" y2="345.04" stroke="#222" stroke-width="0.5" />
<rect x="388.82" y="344.74" width="2.40" height="23.26" fill="#2B4982" />
<text transform="translate(390.02 343.75)" font-size="6.60" text-anchor="middle" fill="#111" stroke="#111" stroke-width="0.2" >*</text>
<line x1="393.19" y1="351.17" x2="393.19" y2="353.00" stroke="#222" stroke-width="0.5" />
<rect x="392.02" y="352.70" width="2.35" height="15.30" fill="#64A82E" />
<line x1="396.39" y1="328.99" x2="396.39" y2="332.35" stroke="#222" stroke-width="0.5" />
<rect x="395.22" y="332.05" width="2.35" height="35.95" fill="#4C1C66" />
<text transform="translate(397.29 330.29)" font-size="6.60" text-anchor="middle" fill="#111" stroke="#111" stroke-width="0.2" >**</text>
<text transform="translate(395.17 377.80) rotate(-45) scale(0.923 1)" font-size="7.43" text-anchor="end" fill="#111" stroke="#111" stroke-width="0.22" >IQGAP2</text>
<line x1="401.68" y1="351.17" x2="401.68" y2="353.00" stroke="#222" stroke-width="0.5" />
<rect x="400.48" y="352.70" width="2.40" height="15.30" fill="#AB002A" />
<line x1="404.83" y1="318.73" x2="404.83" y2="320.87" stroke="#222" stroke-width="0.5" />
<rect x="403.63" y="320.57" width="2.40" height="47.43" fill="#2B4982" />
<text transform="translate(404.83 320.03)" font-size="6.60" text-anchor="middle" fill="#111" stroke="#111" stroke-width="0.2" >**</text>
<line x1="408.00" y1="343.21" x2="408.00" y2="345.04" stroke="#222" stroke-width="0.5" />
<rect x="406.83" y="344.74" width="2.35" height="23.26" fill="#64A82E" />
<text transform="translate(408.00 344.51)" font-size="6.60" text-anchor="middle" fill="#111" stroke="#111" stroke-width="0.2" >**</text>
<line x1="411.20" y1="297.31" x2="411.20" y2="299.91" stroke="#222" stroke-width="0.5" />
<rect x="410.03" y="299.61" width="2.35" height="68.39" fill="#4C1C66" />
<text transform="translate(412.10 298.61)" font-size="6.60" text-anchor="middle" fill="#111" stroke="#111" stroke-width="0.2" >**</text>
<text transform="translate(409.98 377.80) rotate(-45) scale(0.890 1)" font-size="7.43" text-anchor="end" fill="#111" stroke="#111" stroke-width="0.22" >PDE4B</text>
<line x1="416.49" y1="351.17" x2="416.49" y2="353.00" stroke="#222" stroke-width="0.5" />
<rect x="415.29" y="352.70" width="2.40" height="15.30" fill="#AB002A" />
<line x1="419.64" y1="326.38" x2="419.64" y2="328.98" stroke="#222" stroke-width="0.5" />
<rect x="418.44" y="328.68" width="2.40" height="39.32" fill="#2B4982" />
<text transform="translate(419.64 327.68)" font-size="6.60" text-anchor="middle" fill="#111" stroke="#111" stroke-width="0.2" >**</text>
<line x1="422.81" y1="354.69" x2="422.81" y2="356.52" stroke="#222" stroke-width="0.5" />
<rect x="421.64" y="356.22" width="2.35" height="11.78" fill="#64A82E" />
<text transform="translate(422.81 355.99)" font-size="6.60" text-anchor="middle" fill="#111" stroke="#111" stroke-width="0.2" >*</text>
<line x1="426.01" y1="273.90" x2="426.01" y2="276.50" stroke="#222" stroke-width="0.5" />
<rect x="424.84" y="276.20" width="2.35" height="91.80" fill="#4C1C66" />
<text transform="translate(426.91 275.20)" font-size="6.60" text-anchor="middle" fill="#111" stroke="#111" stroke-width="0.2" >**</text>
<text transform="translate(424.79 377.80) rotate(-45) scale(0.928 1)" font-size="7.43" text-anchor="end" fill="#111" stroke="#111" stroke-width="0.22" >PRDM1</text>
<line x1="431.30" y1="351.17" x2="431.30" y2="353.00" stroke="#222" stroke-width="0.5" />
<rect x="430.10" y="352.70" width="2.40" height="15.30" fill="#AB002A" />
<line x1="434.45" y1="326.38" x2="434.45" y2="328.98" stroke="#222" stroke-width="0.5" />
<rect x="433.25" y="328.68" width="2.40" height="39.32" fill="#2B4982" />
<text transform="translate(434.45 327.68)" font-size="6.60" text-anchor="middle" fill="#111" stroke="#111" stroke-width="0.2" >**</text>
<line x1="437.62" y1="342.60" x2="437.62" y2="344.43" stroke="#222" stroke-width="0.5" />
<rect x="436.45" y="344.13" width="2.35" height="23.87" fill="#64A82E" />
<line x1="440.82" y1="304.05" x2="440.82" y2="307.41" stroke="#222" stroke-width="0.5" />
<rect x="439.65" y="307.11" width="2.35" height="60.89" fill="#4C1C66" />
<text transform="translate(441.72 305.35)" font-size="6.60" text-anchor="middle" fill="#111" stroke="#111" stroke-width="0.2" >**</text>
<text transform="translate(439.60 377.80) rotate(-45) scale(0.862 1)" font-size="7.43" text-anchor="end" fill="#111" stroke="#111" stroke-width="0.22" >RASGEF1B</text>
<line x1="446.11" y1="351.17" x2="446.11" y2="353.00" stroke="#222" stroke-width="0.5" />
<rect x="444.91" y="352.70" width="2.40" height="15.30" fill="#AB002A" />
<line x1="449.26" y1="341.22" x2="449.26" y2="343.82" stroke="#222" stroke-width="0.5" />
<rect x="448.06" y="343.52" width="2.40" height="24.48" fill="#2B4982" />
<text transform="translate(449.26 342.52)" font-size="6.60" text-anchor="middle" fill="#111" stroke="#111" stroke-width="0.2" >*</text>
<line x1="452.43" y1="358.06" x2="452.43" y2="359.88" stroke="#222" stroke-width="0.5" />
<rect x="451.26" y="359.58" width="2.35" height="8.42" fill="#64A82E" />
<text transform="translate(452.43 359.36)" font-size="6.60" text-anchor="middle" fill="#111" stroke="#111" stroke-width="0.2" >*</text>
<line x1="455.63" y1="342.45" x2="455.63" y2="345.81" stroke="#222" stroke-width="0.5" />
<rect x="454.46" y="345.51" width="2.35" height="22.49" fill="#4C1C66" />
<text transform="translate(456.53 343.75)" font-size="6.60" text-anchor="middle" fill="#111" stroke="#111" stroke-width="0.2" >*</text>
<text transform="translate(454.41 377.80) rotate(-45) scale(0.871 1)" font-size="7.43" text-anchor="end" fill="#111" stroke="#111" stroke-width="0.22" >RB1</text>
<line x1="460.92" y1="351.17" x2="460.92" y2="353.00" stroke="#222" stroke-width="0.5" />
<rect x="459.72" y="352.70" width="2.40" height="15.30" fill="#AB002A" />
<line x1="464.07" y1="342.30" x2="464.07" y2="344.43" stroke="#222" stroke-width="0.5" />
<rect x="462.87" y="344.13" width="2.40" height="23.87" fill="#2B4982" />
<text transform="translate(464.07 343.60)" font-size="6.60" text-anchor="middle" fill="#111" stroke="#111" stroke-width="0.2" >*</text>
<line x1="467.25" y1="353.47" x2="467.25" y2="355.30" stroke="#222" stroke-width="0.5" />
<rect x="466.07" y="355.00" width="2.35" height="13.00" fill="#64A82E" />
<line x1="470.44" y1="338.17" x2="470.44" y2="343.06" stroke="#222" stroke-width="0.5" />
<rect x="469.27" y="342.75" width="2.35" height="25.25" fill="#4C1C66" />
<text transform="translate(469.22 377.80) rotate(-45) scale(0.879 1)" font-size="7.43" text-anchor="end" fill="#111" stroke="#111" stroke-width="0.22" >TLR4</text>
<line x1="475.73" y1="351.17" x2="475.73" y2="353.00" stroke="#222" stroke-width="0.5" />
<rect x="474.53" y="352.70" width="2.40" height="15.30" fill="#AB002A" />
<line x1="478.88" y1="327.00" x2="478.88" y2="328.83" stroke="#222" stroke-width="0.5" />
<rect x="477.68" y="328.53" width="2.40" height="39.47" fill="#2B4982" />
<text transform="translate(478.88 328.30)" font-size="6.60" text-anchor="middle" fill="#111" stroke="#111" stroke-width="0.2" >*</text>
<line x1="482.05" y1="343.21" x2="482.05" y2="345.04" stroke="#222" stroke-width="0.5" />
<rect x="480.88" y="344.74" width="2.35" height="23.26" fill="#64A82E" />
<text transform="translate(482.05 344.51)" font-size="6.60" text-anchor="middle" fill="#111" stroke="#111" stroke-width="0.2" >*</text>
<line x1="485.25" y1="246.06" x2="485.25" y2="281.24" stroke="#222" stroke-width="0.5" />
<rect x="484.08" y="280.94" width="2.35" height="87.06" fill="#4C1C66" />
<text transform="translate(484.03 377.80) rotate(-45) scale(0.915 1)" font-size="7.43" text-anchor="end" fill="#111" stroke="#111" stroke-width="0.22" >TP53</text>
<line x1="490.54" y1="351.17" x2="490.54" y2="353.00" stroke="#222" stroke-width="0.5" />
<rect x="489.34" y="352.70" width="2.40" height="15.30" fill="#AB002A" />
<line x1="493.69" y1="340.00" x2="493.69" y2="341.83" stroke="#222" stroke-width="0.5" />
<rect x="492.49" y="341.53" width="2.40" height="26.47" fill="#2B4982" />
<text transform="translate(493.69 341.30)" font-size="6.60" text-anchor="middle" fill="#111" stroke="#111" stroke-width="0.2" >**</text>
<line x1="496.87" y1="354.08" x2="496.87" y2="355.91" stroke="#222" stroke-width="0.5" />
<rect x="495.69" y="355.61" width="2.35" height="12.39" fill="#64A82E" />
<line x1="500.06" y1="335.11" x2="500.06" y2="336.94" stroke="#222" stroke-width="0.5" />
<rect x="498.89" y="336.63" width="2.35" height="31.37" fill="#4C1C66" />
<text transform="translate(500.96 336.41)" font-size="6.60" text-anchor="middle" fill="#111" stroke="#111" stroke-width="0.2" >**</text>
<text transform="translate(498.84 377.80) rotate(-45) scale(0.915 1)" font-size="7.43" text-anchor="end" fill="#111" stroke="#111" stroke-width="0.22" >TXN1P</text>
<path d="M289.00 336.30V327.40H292.70" stroke="#333" stroke-width="0.7" fill="none" />
<text transform="translate(291.90 325.60)" font-size="6.30" text-anchor="middle" fill="#111" stroke="#111" stroke-width="0.15" >†</text>
<path d="M315.40 316.20V305.20H322.70" stroke="#333" stroke-width="0.7" fill="none" />
<text transform="translate(321.70 303.40)" font-size="6.30" text-anchor="middle" fill="#111" stroke="#111" stroke-width="0.15" >†</text>
<path d="M318.80 324.80V314.80H322.10" stroke="#333" stroke-width="0.7" fill="none" />
<text transform="translate(321.20 313.00)" font-size="6.30" text-anchor="middle" fill="#111" stroke="#111" stroke-width="0.15" >††</text>
<path d="M330.40 329.20V289.80H336.50" stroke="#333" stroke-width="0.7" fill="none" />
<text transform="translate(336.30 288.00)" font-size="6.30" text-anchor="middle" fill="#111" stroke="#111" stroke-width="0.15" >††</text>
<path d="M333.30 340.20V295.60H336.20" stroke="#333" stroke-width="0.7" fill="none" />
<text transform="translate(336.30 294.20)" font-size="6.30" text-anchor="middle" fill="#111" stroke="#111" stroke-width="0.15" >††</text>
<path d="M363.50 313.30V303.10H366.90" stroke="#333" stroke-width="0.7" fill="none" />
<text transform="translate(365.40 301.30)" font-size="6.30" text-anchor="middle" fill="#111" stroke="#111" stroke-width="0.15" >††</text>
<path d="M378.50 327.50V323.10H381.30" stroke="#333" stroke-width="0.7" fill="none" />
<text transform="translate(380.40 321.30)" font-size="6.30" text-anchor="middle" fill="#111" stroke="#111" stroke-width="0.15" >††</text>
<path d="M389.60 340.00V316.30H395.80" stroke="#333" stroke-width="0.7" fill="none" />
<text transform="translate(394.80 314.60)" font-size="6.30" text-anchor="middle" fill="#111" stroke="#111" stroke-width="0.15" >††</text>
<path d="M393.30 351.50V324.60H396.30" stroke="#333" stroke-width="0.7" fill="none" />
<text transform="translate(394.80 322.90)" font-size="6.30" text-anchor="middle" fill="#111" stroke="#111" stroke-width="0.15" >††</text>
<path d="M404.40 316.00V284.60H410.80" stroke="#333" stroke-width="0.7" fill="none" />
<text transform="translate(409.80 282.90)" font-size="6.30" text-anchor="middle" fill="#111" stroke="#111" stroke-width="0.15" >††</text>
<path d="M407.70 340.00V291.50H411.20" stroke="#333" stroke-width="0.7" fill="none" />
<text transform="translate(409.80 290.00)" font-size="6.30" text-anchor="middle" fill="#111" stroke="#111" stroke-width="0.15" >††</text>
<path d="M419.40 318.80V263.50H425.60" stroke="#333" stroke-width="0.7" fill="none" />
<text transform="translate(425.00 261.80)" font-size="6.30" text-anchor="middle" fill="#111" stroke="#111" stroke-width="0.15" >††</text>
<path d="M423.10 349.00V270.80H426.20" stroke="#333" stroke-width="0.7" fill="none" />
<text transform="translate(425.00 269.00)" font-size="6.30" text-anchor="middle" fill="#111" stroke="#111" stroke-width="0.15" >††</text>
<path d="M434.20 320.80V291.90H440.60" stroke="#333" stroke-width="0.7" fill="none" />
<text transform="translate(439.60 289.90)" font-size="6.30" text-anchor="middle" fill="#111" stroke="#111" stroke-width="0.15" >††</text>
<path d="M437.70 343.00V299.20H441.00" stroke="#333" stroke-width="0.7" fill="none" />
<text transform="translate(439.60 297.60)" font-size="6.30" text-anchor="middle" fill="#111" stroke="#111" stroke-width="0.15" >††</text>
<path d="M494.30 335.00V318.90H500.40" stroke="#333" stroke-width="0.7" fill="none" />
<text transform="translate(499.40 317.20)" font-size="6.30" text-anchor="middle" fill="#111" stroke="#111" stroke-width="0.15" >††</text>
<path d="M497.80 347.70V325.20H500.80" stroke="#333" stroke-width="0.7" fill="none" />
<text transform="translate(499.40 323.60)" font-size="6.30" text-anchor="middle" fill="#111" stroke="#111" stroke-width="0.15" >††</text>
<text transform="translate(187.20 431.50) scale(0.960 1)" font-size="11.09" text-anchor="start" fill="#111" stroke="#111" stroke-width="0.22" >H</text>
<text transform="translate(249.40 428.60) scale(0.981 1)" font-size="7.38" text-anchor="middle" fill="#111" stroke="#111" stroke-width="0.22" >D0</text>
<text transform="translate(285.10 428.60) scale(0.981 1)" font-size="7.38" text-anchor="middle" fill="#111" stroke="#111" stroke-width="0.22" >D3</text>
<text transform="translate(320.30 428.60) scale(0.981 1)" font-size="7.38" text-anchor="middle" fill="#111" stroke="#111" stroke-width="0.22" >D6</text>
<line x1="249.00" y1="431.40" x2="321.00" y2="431.40" stroke="#111" stroke-width="1.0" />
<line x1="249.40" y1="444.80" x2="249.40" y2="435.50" stroke="#111" stroke-width="1.1" />
<path d="M247.20 436.6L249.40 431.8L251.60 436.6Z" fill="#111"/>
<line x1="285.20" y1="444.80" x2="285.20" y2="435.50" stroke="#111" stroke-width="1.1" />
<path d="M283.00 436.6L285.20 431.8L287.40 436.6Z" fill="#111"/>
<line x1="320.30" y1="444.80" x2="320.30" y2="435.50" stroke="#111" stroke-width="1.1" />
<path d="M318.10 436.6L320.30 431.8L322.50 436.6Z" fill="#111"/>
<text transform="translate(249.00 454.60) scale(0.906 1)" font-size="7.38" text-anchor="middle" fill="#111" stroke="#111" stroke-width="0.22" >GSK591</text>
<text transform="translate(285.00 454.60) scale(0.911 1)" font-size="7.38" text-anchor="middle" fill="#111" stroke="#111" stroke-width="0.22" >FX1</text>
<text transform="translate(320.50 454.60) scale(0.885 1)" font-size="7.38" text-anchor="middle" fill="#111" stroke="#111" stroke-width="0.22" >FACS</text>
<text transform="translate(320.10 464.50) scale(0.954 1)" font-size="7.38" text-anchor="middle" fill="#111" stroke="#111" stroke-width="0.22" >(CFSE/Viability)</text>
<text transform="translate(298.30 478.80) scale(0.995 1)" font-size="7.38" text-anchor="middle" fill="#111" stroke="#111" stroke-width="0.22" >Patient 1</text>
<line x1="239.60" y1="484.00" x2="239.60" y2="559.70" stroke="#111" stroke-width="1.2" />
<line x1="237.00" y1="559.10" x2="239.60" y2="559.10" stroke="#111" stroke-width="1.08" />
<text transform="translate(234.60 561.68) scale(0.981 1)" font-size="7.24" text-anchor="end" fill="#111" stroke="#111" stroke-width="0.22" >0</text>
<line x1="237.00" y1="534.95" x2="239.60" y2="534.95" stroke="#111" stroke-width="1.08" />
<text transform="translate(234.60 537.53) scale(0.918 1)" font-size="7.24" text-anchor="end" fill="#111" stroke="#111" stroke-width="0.22" >1K</text>
<line x1="237.00" y1="510.80" x2="239.60" y2="510.80" stroke="#111" stroke-width="1.08" />
<text transform="translate(234.60 513.38) scale(0.918 1)" font-size="7.24" text-anchor="end" fill="#111" stroke="#111" stroke-width="0.22" >2K</text>
<line x1="237.00" y1="486.65" x2="239.60" y2="486.65" stroke="#111" stroke-width="1.08" />
<text transform="translate(234.60 489.23) scale(0.918 1)" font-size="7.24" text-anchor="end" fill="#111" stroke="#111" stroke-width="0.22" >3K</text>
<line x1="239.00" y1="559.10" x2="357.70" y2="559.10" stroke="#111" stroke-width="1.2" />
<line x1="251.40" y1="559.10" x2="251.40" y2="561.70" stroke="#111" stroke-width="1.08" />
<line x1="275.00" y1="559.10" x2="275.00" y2="561.70" stroke="#111" stroke-width="1.08" />
<line x1="298.60" y1="559.10" x2="298.60" y2="561.70" stroke="#111" stroke-width="1.08" />
<line x1="322.20" y1="559.10" x2="322.20" y2="561.70" stroke="#111" stroke-width="1.08" />
<line x1="345.80" y1="559.10" x2="345.80" y2="561.70" stroke="#111" stroke-width="1.08" />
<line x1="244.90" y1="526.20" x2="244.90" y2="528.10" stroke="#111" stroke-width="0.8" />
<line x1="243.70" y1="526.20" x2="246.10" y2="526.20" stroke="#111" stroke-width="0.8" />
<rect x="242.65" y="527.70" width="4.50" height="31.40" fill="#2B4982" />
<line x1="251.40" y1="517.60" x2="251.40" y2="519.50" stroke="#111" stroke-width="0.8" />
<line x1="250.20" y1="517.60" x2="252.60" y2="517.60" stroke="#111" stroke-width="0.8" />
<rect x="249.15" y="519.10" width="4.50" height="40.00" fill="#64A82E" />
<line x1="257.90" y1="496.00" x2="257.90" y2="497.10" stroke="#111" stroke-width="0.8" />
<line x1="256.70" y1="496.00" x2="259.10" y2="496.00" stroke="#111" stroke-width="0.8" />
<rect x="255.65" y="496.70" width="4.50" height="62.40" fill="#4C1C66" />
<line x1="268.50" y1="531.00" x2="268.50" y2="532.70" stroke="#111" stroke-width="0.8" />
<line x1="267.30" y1="531.00" x2="269.70" y2="531.00" stroke="#111" stroke-width="0.8" />
<rect x="266.25" y="532.30" width="4.50" height="26.80" fill="#2B4982" />
<line x1="275.00" y1="528.30" x2="275.00" y2="531.30" stroke="#111" stroke-width="0.8" />
<line x1="273.80" y1="528.30" x2="276.20" y2="528.30" stroke="#111" stroke-width="0.8" />
<rect x="272.75" y="530.90" width="4.50" height="28.20" fill="#64A82E" />
<line x1="281.50" y1="513.30" x2="281.50" y2="515.20" stroke="#111" stroke-width="0.8" />
<line x1="280.30" y1="513.30" x2="282.70" y2="513.30" stroke="#111" stroke-width="0.8" />
<rect x="279.25" y="514.80" width="4.50" height="44.30" fill="#4C1C66" />
<line x1="292.10" y1="534.30" x2="292.10" y2="535.60" stroke="#111" stroke-width="0.8" />
<line x1="290.90" y1="534.30" x2="293.30" y2="534.30" stroke="#111" stroke-width="0.8" />
<rect x="289.85" y="535.20" width="4.50" height="23.90" fill="#2B4982" />
<line x1="298.60" y1="538.30" x2="298.60" y2="539.40" stroke="#111" stroke-width="0.8" />
<line x1="297.40" y1="538.30" x2="299.80" y2="538.30" stroke="#111" stroke-width="0.8" />
<rect x="296.35" y="539.00" width="4.50" height="20.10" fill="#64A82E" />
<line x1="305.10" y1="526.00" x2="305.10" y2="527.30" stroke="#111" stroke-width="0.8" />
<line x1="303.90" y1="526.00" x2="306.30" y2="526.00" stroke="#111" stroke-width="0.8" />
<rect x="302.85" y="526.90" width="4.50" height="32.20" fill="#4C1C66" />
<line x1="315.70" y1="538.50" x2="315.70" y2="539.70" stroke="#111" stroke-width="0.8" />
<line x1="314.50" y1="538.50" x2="316.90" y2="538.50" stroke="#111" stroke-width="0.8" />
<rect x="313.45" y="539.30" width="4.50" height="19.80" fill="#2B4982" />
<line x1="322.20" y1="540.60" x2="322.20" y2="541.60" stroke="#111" stroke-width="0.8" />
<line x1="321.00" y1="540.60" x2="323.40" y2="540.60" stroke="#111" stroke-width="0.8" />
<rect x="319.95" y="541.20" width="4.50" height="17.90" fill="#64A82E" />
<line x1="328.70" y1="533.50" x2="328.70" y2="535.40" stroke="#111" stroke-width="0.8" />
<line x1="327.50" y1="533.50" x2="329.90" y2="533.50" stroke="#111" stroke-width="0.8" />
<rect x="326.45" y="535.00" width="4.50" height="24.10" fill="#4C1C66" />
<line x1="339.30" y1="541.50" x2="339.30" y2="542.40" stroke="#111" stroke-width="0.8" />
<line x1="338.10" y1="541.50" x2="340.50" y2="541.50" stroke="#111" stroke-width="0.8" />
<rect x="337.05" y="542.00" width="4.50" height="17.10" fill="#2B4982" />
<line x1="345.80" y1="541.50" x2="345.80" y2="542.40" stroke="#111" stroke-width="0.8" />
<line x1="344.60" y1="541.50" x2="347.00" y2="541.50" stroke="#111" stroke-width="0.8" />
<rect x="343.55" y="542.00" width="4.50" height="17.10" fill="#64A82E" />
<line x1="352.30" y1="541.50" x2="352.30" y2="542.40" stroke="#111" stroke-width="0.8" />
<line x1="351.10" y1="541.50" x2="353.50" y2="541.50" stroke="#111" stroke-width="0.8" />
<rect x="350.05" y="542.00" width="4.50" height="17.10" fill="#4C1C66" />
<text transform="translate(207.20 522.00) rotate(-90) scale(1.027 1)" font-size="8.98" text-anchor="middle" fill="#111" stroke="#111" stroke-width="0.22" >Proliferation</text>
<text transform="translate(218.40 521.60) rotate(-90) scale(0.935 1)" font-size="8.98" text-anchor="middle" fill="#111" stroke="#111" stroke-width="0.22" >CFSE MFI of Ghost Dye- CD19+</text>
<path d="M244.30 521.30V488.00H255.00" stroke="#333" stroke-width="0.7" fill="none" />
<text transform="translate(252.50 486.30)" font-size="6.30" text-anchor="middle" fill="#111" stroke="#111" stroke-width="0.15" >††</text>
<path d="M250.50 515.00V494.30H254.50" stroke="#333" stroke-width="0.7" fill="none" />
<text transform="translate(252.50 492.90)" font-size="6.30" text-anchor="middle" fill="#111" stroke="#111" stroke-width="0.15" >††</text>
<path d="M268.30 527.50V496.80H279.50" stroke="#333" stroke-width="0.7" fill="none" />
<text transform="translate(276.80 495.00)" font-size="6.30" text-anchor="middle" fill="#111" stroke="#111" stroke-width="0.15" >††</text>
<path d="M275.00 525.00V505.80H278.80" stroke="#333" stroke-width="0.7" fill="none" />
<text transform="translate(276.80 503.60)" font-size="6.30" text-anchor="middle" fill="#111" stroke="#111" stroke-width="0.15" >††</text>
<path d="M292.20 530.70V509.30H303.50" stroke="#333" stroke-width="0.7" fill="none" />
<text transform="translate(300.40 507.60)" font-size="6.30" text-anchor="middle" fill="#111" stroke="#111" stroke-width="0.15" >††</text>
<path d="M299.60 533.50V517.80H301.60" stroke="#333" stroke-width="0.7" fill="none" />
<text transform="translate(300.40 515.60)" font-size="6.30" text-anchor="middle" fill="#111" stroke="#111" stroke-width="0.15" >††</text>
<path d="M315.30 535.00V519.20H326.20" stroke="#333" stroke-width="0.7" fill="none" />
<text transform="translate(323.20 517.50)" font-size="6.30" text-anchor="middle" fill="#111" stroke="#111" stroke-width="0.15" >††</text>
<path d="M322.20 537.30V527.30H324.70" stroke="#333" stroke-width="0.7" fill="none" />
<text transform="translate(323.20 524.90)" font-size="6.30" text-anchor="middle" fill="#111" stroke="#111" stroke-width="0.15" >††</text>
<text transform="translate(245.00 525.60)" font-size="6.60" text-anchor="middle" fill="#111" stroke="#111" stroke-width="0.2" >**</text>
<text transform="translate(251.30 517.20)" font-size="6.60" text-anchor="middle" fill="#111" stroke="#111" stroke-width="0.2" >**</text>
<text transform="translate(258.30 496.40)" font-size="6.60" text-anchor="middle" fill="#111" stroke="#111" stroke-width="0.2" >**</text>
<text transform="translate(268.80 531.50)" font-size="6.60" text-anchor="middle" fill="#111" stroke="#111" stroke-width="0.2" >**</text>
<text transform="translate(275.00 527.20)" font-size="6.60" text-anchor="middle" fill="#111" stroke="#111" stroke-width="0.2" >**</text>
<text transform="translate(282.00 512.60)" font-size="6.60" text-anchor="middle" fill="#111" stroke="#111" stroke-width="0.2" >**</text>
<text transform="translate(292.20 534.20)" font-size="6.60" text-anchor="middle" fill="#111" stroke="#111" stroke-width="0.2" >**</text>
<text transform="translate(305.30 526.00)" font-size="6.60" text-anchor="middle" fill="#111" stroke="#111" stroke-width="0.2" >**</text>
<text transform="translate(315.50 538.50)" font-size="6.60" text-anchor="middle" fill="#111" stroke="#111" stroke-width="0.2" >**</text>
<text transform="translate(329.00 534.30)" font-size="6.60" text-anchor="middle" fill="#111" stroke="#111" stroke-width="0.2" >**</text>
<rect x="404.40" y="450.70" width="9.40" height="4.80" fill="#2B4982" />
<text transform="translate(417.70 455.80) scale(0.906 1)" font-size="6.67" text-anchor="start" fill="#111" stroke="#111" stroke-width="0.22" >GSK591</text>
<rect x="446.00" y="450.70" width="9.40" height="4.80" fill="#4C1C66" />
<text transform="translate(458.60 455.80) scale(0.925 1)" font-size="6.67" text-anchor="start" fill="#111" stroke="#111" stroke-width="0.22" >FX1+GSK591</text>
<rect x="404.40" y="462.20" width="9.40" height="4.80" fill="#64A82E" />
<text transform="translate(417.70 467.00) scale(0.911 1)" font-size="6.67" text-anchor="start" fill="#111" stroke="#111" stroke-width="0.22" >FX1</text>
<text transform="translate(453.40 478.00) scale(0.995 1)" font-size="7.38" text-anchor="middle" fill="#111" stroke="#111" stroke-width="0.22" >Patient 2</text>
<line x1="394.00" y1="484.00" x2="394.00" y2="559.30" stroke="#111" stroke-width="1.2" />
<line x1="391.40" y1="558.70" x2="394.00" y2="558.70" stroke="#111" stroke-width="1.08" />
<text transform="translate(389.00 561.28) scale(0.981 1)" font-size="7.24" text-anchor="end" fill="#111" stroke="#111" stroke-width="0.22" >0</text>
<line x1="391.40" y1="534.50" x2="394.00" y2="534.50" stroke="#111" stroke-width="1.08" />
<text transform="translate(389.00 537.08) scale(0.937 1)" font-size="7.24" text-anchor="end" fill="#111" stroke="#111" stroke-width="0.22" >20K</text>
<line x1="391.40" y1="510.30" x2="394.00" y2="510.30" stroke="#111" stroke-width="1.08" />
<text transform="translate(389.00 512.88) scale(0.937 1)" font-size="7.24" text-anchor="end" fill="#111" stroke="#111" stroke-width="0.22" >40K</text>
<line x1="391.40" y1="486.10" x2="394.00" y2="486.10" stroke="#111" stroke-width="1.08" />
<text transform="translate(389.00 488.68) scale(0.937 1)" font-size="7.24" text-anchor="end" fill="#111" stroke="#111" stroke-width="0.22" >60K</text>
<line x1="393.40" y1="558.70" x2="511.90" y2="558.70" stroke="#111" stroke-width="1.2" />
<line x1="406.40" y1="558.70" x2="406.40" y2="561.30" stroke="#111" stroke-width="1.08" />
<line x1="429.90" y1="558.70" x2="429.90" y2="561.30" stroke="#111" stroke-width="1.08" />
<line x1="453.40" y1="558.70" x2="453.40" y2="561.30" stroke="#111" stroke-width="1.08" />
<line x1="476.90" y1="558.70" x2="476.90" y2="561.30" stroke="#111" stroke-width="1.08" />
<line x1="500.40" y1="558.70" x2="500.40" y2="561.30" stroke="#111" stroke-width="1.08" />
<line x1="399.90" y1="530.40" x2="399.90" y2="536.20" stroke="#111" stroke-width="0.8" />
<line x1="398.70" y1="530.40" x2="401.10" y2="530.40" stroke="#111" stroke-width="0.8" />
<rect x="397.65" y="535.80" width="4.50" height="22.90" fill="#2B4982" />
<line x1="406.40" y1="509.40" x2="406.40" y2="523.20" stroke="#111" stroke-width="0.8" />
<line x1="405.20" y1="509.40" x2="407.60" y2="509.40" stroke="#111" stroke-width="0.8" />
<rect x="404.15" y="522.80" width="4.50" height="35.90" fill="#64A82E" />
<line x1="412.90" y1="500.20" x2="412.90" y2="506.00" stroke="#111" stroke-width="0.8" />
<line x1="411.70" y1="500.20" x2="414.10" y2="500.20" stroke="#111" stroke-width="0.8" />
<rect x="410.65" y="505.60" width="4.50" height="53.10" fill="#4C1C66" />
<line x1="423.40" y1="539.30" x2="423.40" y2="544.80" stroke="#111" stroke-width="0.8" />
<line x1="422.20" y1="539.30" x2="424.60" y2="539.30" stroke="#111" stroke-width="0.8" />
<rect x="421.15" y="544.40" width="4.50" height="14.30" fill="#2B4982" />
<line x1="429.90" y1="509.40" x2="429.90" y2="520.00" stroke="#111" stroke-width="0.8" />
<line x1="428.70" y1="509.40" x2="431.10" y2="509.40" stroke="#111" stroke-width="0.8" />
<rect x="427.65" y="519.60" width="4.50" height="39.10" fill="#64A82E" />
<line x1="436.40" y1="502.90" x2="436.40" y2="507.90" stroke="#111" stroke-width="0.8" />
<line x1="435.20" y1="502.90" x2="437.60" y2="502.90" stroke="#111" stroke-width="0.8" />
<rect x="434.15" y="507.50" width="4.50" height="51.20" fill="#4C1C66" />
<line x1="446.90" y1="550.00" x2="446.90" y2="552.30" stroke="#111" stroke-width="0.8" />
<line x1="445.70" y1="550.00" x2="448.10" y2="550.00" stroke="#111" stroke-width="0.8" />
<rect x="444.65" y="551.90" width="4.50" height="6.80" fill="#2B4982" />
<line x1="453.40" y1="522.30" x2="453.40" y2="533.50" stroke="#111" stroke-width="0.8" />
<line x1="452.20" y1="522.30" x2="454.60" y2="522.30" stroke="#111" stroke-width="0.8" />
<rect x="451.15" y="533.10" width="4.50" height="25.60" fill="#64A82E" />
<line x1="459.90" y1="514.20" x2="459.90" y2="517.30" stroke="#111" stroke-width="0.8" />
<line x1="458.70" y1="514.20" x2="461.10" y2="514.20" stroke="#111" stroke-width="0.8" />
<rect x="457.65" y="516.90" width="4.50" height="41.80" fill="#4C1C66" />
<line x1="470.40" y1="552.00" x2="470.40" y2="554.20" stroke="#111" stroke-width="0.8" />
<line x1="469.20" y1="552.00" x2="471.60" y2="552.00" stroke="#111" stroke-width="0.8" />
<rect x="468.15" y="553.80" width="4.50" height="4.90" fill="#2B4982" />
<line x1="476.90" y1="544.40" x2="476.90" y2="547.50" stroke="#111" stroke-width="0.8" />
<line x1="475.70" y1="544.40" x2="478.10" y2="544.40" stroke="#111" stroke-width="0.8" />
<rect x="474.65" y="547.10" width="4.50" height="11.60" fill="#64A82E" />
<line x1="483.40" y1="531.70" x2="483.40" y2="538.30" stroke="#111" stroke-width="0.8" />
<line x1="482.20" y1="531.70" x2="484.60" y2="531.70" stroke="#111" stroke-width="0.8" />
<rect x="481.15" y="537.90" width="4.50" height="20.80" fill="#4C1C66" />
<line x1="493.90" y1="554.00" x2="493.90" y2="555.80" stroke="#111" stroke-width="0.8" />
<line x1="492.70" y1="554.00" x2="495.10" y2="554.00" stroke="#111" stroke-width="0.8" />
<rect x="491.65" y="555.40" width="4.50" height="3.30" fill="#2B4982" />
<line x1="500.40" y1="554.00" x2="500.40" y2="555.80" stroke="#111" stroke-width="0.8" />
<line x1="499.20" y1="554.00" x2="501.60" y2="554.00" stroke="#111" stroke-width="0.8" />
<rect x="498.15" y="555.40" width="4.50" height="3.30" fill="#64A82E" />
<line x1="506.90" y1="554.00" x2="506.90" y2="555.80" stroke="#111" stroke-width="0.8" />
<line x1="505.70" y1="554.00" x2="508.10" y2="554.00" stroke="#111" stroke-width="0.8" />
<rect x="504.65" y="555.40" width="4.50" height="3.30" fill="#4C1C66" />
<text transform="translate(368.60 521.00) rotate(-90) scale(0.920 1)" font-size="8.98" text-anchor="middle" fill="#111" stroke="#111" stroke-width="0.22" >CFSE MFI of DAPI- CD19+</text>
<path d="M399.40 526.00V492.40H409.60" stroke="#333" stroke-width="0.7" fill="none" />
<text transform="translate(406.90 490.60)" font-size="6.30" text-anchor="middle" fill="#111" stroke="#111" stroke-width="0.15" >††</text>
<path d="M422.50 534.00V497.50H433.00" stroke="#333" stroke-width="0.7" fill="none" />
<text transform="translate(430.60 495.60)" font-size="6.30" text-anchor="middle" fill="#111" stroke="#111" stroke-width="0.15" >††</text>
<path d="M446.00 548.50V508.80H456.70" stroke="#333" stroke-width="0.7" fill="none" />
<text transform="translate(453.20 507.60)" font-size="6.30" text-anchor="middle" fill="#111" stroke="#111" stroke-width="0.15" >††</text>
<path d="M469.70 550.00V525.50H481.00" stroke="#333" stroke-width="0.7" fill="none" />
<text transform="translate(480.20 523.80)" font-size="6.30" text-anchor="middle" fill="#111" stroke="#111" stroke-width="0.15" >†</text>
<text transform="translate(399.40 530.00)" font-size="6.60" text-anchor="middle" fill="#111" stroke="#111" stroke-width="0.2" >**</text>
<text transform="translate(405.60 509.00)" font-size="6.60" text-anchor="middle" fill="#111" stroke="#111" stroke-width="0.2" >**</text>
<text transform="translate(412.30 499.80)" font-size="6.60" text-anchor="middle" fill="#111" stroke="#111" stroke-width="0.2" >**</text>
<text transform="translate(423.00 539.00)" font-size="6.60" text-anchor="middle" fill="#111" stroke="#111" stroke-width="0.2" >*</text>
<text transform="translate(429.30 509.00)" font-size="6.60" text-anchor="middle" fill="#111" stroke="#111" stroke-width="0.2" >**</text>
<text transform="translate(436.50 502.60)" font-size="6.60" text-anchor="middle" fill="#111" stroke="#111" stroke-width="0.2" >**</text>
<text transform="translate(453.20 522.00)" font-size="6.60" text-anchor="middle" fill="#111" stroke="#111" stroke-width="0.2" >*</text>
<text transform="translate(460.00 514.00)" font-size="6.60" text-anchor="middle" fill="#111" stroke="#111" stroke-width="0.2" >**</text>
<text transform="translate(483.10 531.60)" font-size="6.60" text-anchor="middle" fill="#111" stroke="#111" stroke-width="0.2" >*</text>
<text transform="translate(190.60 588.20) scale(0.915 1)" font-size="11.09" text-anchor="start" fill="#111" stroke="#111" stroke-width="0.22" >I</text>
<line x1="239.60" y1="592.00" x2="239.60" y2="668.20" stroke="#111" stroke-width="1.2" />
<line x1="237.00" y1="667.60" x2="239.60" y2="667.60" stroke="#111" stroke-width="1.08" />
<text transform="translate(234.60 670.18) scale(0.981 1)" font-size="7.24" text-anchor="end" fill="#111" stroke="#111" stroke-width="0.22" >0</text>
<line x1="237.00" y1="652.90" x2="239.60" y2="652.90" stroke="#111" stroke-width="1.08" />
<text transform="translate(234.60 655.48) scale(0.981 1)" font-size="7.24" text-anchor="end" fill="#111" stroke="#111" stroke-width="0.22" >20</text>
<line x1="237.00" y1="638.20" x2="239.60" y2="638.20" stroke="#111" stroke-width="1.08" />
<text transform="translate(234.60 640.78) scale(0.981 1)" font-size="7.24" text-anchor="end" fill="#111" stroke="#111" stroke-width="0.22" >40</text>
<line x1="237.00" y1="623.50" x2="239.60" y2="623.50" stroke="#111" stroke-width="1.08" />
<text transform="translate(234.60 626.08) scale(0.981 1)" font-size="7.24" text-anchor="end" fill="#111" stroke="#111" stroke-width="0.22" >60</text>
<line x1="237.00" y1="608.80" x2="239.60" y2="608.80" stroke="#111" stroke-width="1.08" />
<text transform="translate(234.60 611.38) scale(0.981 1)" font-size="7.24" text-anchor="end" fill="#111" stroke="#111" stroke-width="0.22" >80</text>
<line x1="237.00" y1="594.10" x2="239.60" y2="594.10" stroke="#111" stroke-width="1.08" />
<text transform="translate(234.60 596.68) scale(0.981 1)" font-size="7.24" text-anchor="end" fill="#111" stroke="#111" stroke-width="0.22" >100</text>
<line x1="239.00" y1="667.60" x2="357.70" y2="667.60" stroke="#111" stroke-width="1.2" />
<line x1="251.40" y1="667.60" x2="251.40" y2="670.20" stroke="#111" stroke-width="1.08" />
<line x1="275.00" y1="667.60" x2="275.00" y2="670.20" stroke="#111" stroke-width="1.08" />
<line x1="298.60" y1="667.60" x2="298.60" y2="670.20" stroke="#111" stroke-width="1.08" />
<line x1="322.20" y1="667.60" x2="322.20" y2="670.20" stroke="#111" stroke-width="1.08" />
<line x1="345.80" y1="667.60" x2="345.80" y2="670.20" stroke="#111" stroke-width="1.08" />
<line x1="244.90" y1="647.40" x2="244.90" y2="649.00" stroke="#111" stroke-width="0.8" />
<line x1="243.70" y1="647.40" x2="246.10" y2="647.40" stroke="#111" stroke-width="0.8" />
<rect x="242.65" y="648.60" width="4.50" height="19.00" fill="#2B4982" />
<line x1="251.40" y1="661.50" x2="251.40" y2="662.50" stroke="#111" stroke-width="0.8" />
<line x1="250.20" y1="661.50" x2="252.60" y2="661.50" stroke="#111" stroke-width="0.8" />
<rect x="249.15" y="662.10" width="4.50" height="5.50" fill="#64A82E" />
<line x1="257.90" y1="661.80" x2="257.90" y2="662.80" stroke="#111" stroke-width="0.8" />
<line x1="256.70" y1="661.80" x2="259.10" y2="661.80" stroke="#111" stroke-width="0.8" />
<rect x="255.65" y="662.40" width="4.50" height="5.20" fill="#4C1C66" />
<line x1="268.50" y1="639.50" x2="268.50" y2="640.90" stroke="#111" stroke-width="0.8" />
<line x1="267.30" y1="639.50" x2="269.70" y2="639.50" stroke="#111" stroke-width="0.8" />
<rect x="266.25" y="640.50" width="4.50" height="27.10" fill="#2B4982" />
<line x1="275.00" y1="651.80" x2="275.00" y2="653.10" stroke="#111" stroke-width="0.8" />
<line x1="273.80" y1="651.80" x2="276.20" y2="651.80" stroke="#111" stroke-width="0.8" />
<rect x="272.75" y="652.70" width="4.50" height="14.90" fill="#64A82E" />
<line x1="281.50" y1="649.80" x2="281.50" y2="650.90" stroke="#111" stroke-width="0.8" />
<line x1="280.30" y1="649.80" x2="282.70" y2="649.80" stroke="#111" stroke-width="0.8" />
<rect x="279.25" y="650.50" width="4.50" height="17.10" fill="#4C1C66" />
<line x1="292.10" y1="636.20" x2="292.10" y2="637.70" stroke="#111" stroke-width="0.8" />
<line x1="290.90" y1="636.20" x2="293.30" y2="636.20" stroke="#111" stroke-width="0.8" />
<rect x="289.85" y="637.30" width="4.50" height="30.30" fill="#2B4982" />
<line x1="298.60" y1="635.20" x2="298.60" y2="636.90" stroke="#111" stroke-width="0.8" />
<line x1="297.40" y1="635.20" x2="299.80" y2="635.20" stroke="#111" stroke-width="0.8" />
<rect x="296.35" y="636.50" width="4.50" height="31.10" fill="#64A82E" />
<line x1="305.10" y1="643.00" x2="305.10" y2="644.20" stroke="#111" stroke-width="0.8" />
<line x1="303.90" y1="643.00" x2="306.30" y2="643.00" stroke="#111" stroke-width="0.8" />
<rect x="302.85" y="643.80" width="4.50" height="23.80" fill="#4C1C66" />
<line x1="315.70" y1="626.80" x2="315.70" y2="628.00" stroke="#111" stroke-width="0.8" />
<line x1="314.50" y1="626.80" x2="316.90" y2="626.80" stroke="#111" stroke-width="0.8" />
<rect x="313.45" y="627.60" width="4.50" height="40.00" fill="#2B4982" />
<line x1="322.20" y1="618.60" x2="322.20" y2="620.20" stroke="#111" stroke-width="0.8" />
<line x1="321.00" y1="618.60" x2="323.40" y2="618.60" stroke="#111" stroke-width="0.8" />
<rect x="319.95" y="619.80" width="4.50" height="47.80" fill="#64A82E" />
<line x1="328.70" y1="632.80" x2="328.70" y2="635.60" stroke="#111" stroke-width="0.8" />
<line x1="327.50" y1="632.80" x2="329.90" y2="632.80" stroke="#111" stroke-width="0.8" />
<rect x="326.45" y="635.20" width="4.50" height="32.40" fill="#4C1C66" />
<line x1="339.30" y1="613.20" x2="339.30" y2="614.80" stroke="#111" stroke-width="0.8" />
<line x1="338.10" y1="613.20" x2="340.50" y2="613.20" stroke="#111" stroke-width="0.8" />
<rect x="337.05" y="614.40" width="4.50" height="53.20" fill="#2B4982" />
<line x1="345.80" y1="613.20" x2="345.80" y2="614.80" stroke="#111" stroke-width="0.8" />
<line x1="344.60" y1="613.20" x2="347.00" y2="613.20" stroke="#111" stroke-width="0.8" />
<rect x="343.55" y="614.40" width="4.50" height="53.20" fill="#64A82E" />
<line x1="352.30" y1="611.00" x2="352.30" y2="613.20" stroke="#111" stroke-width="0.8" />
<line x1="351.10" y1="611.00" x2="353.50" y2="611.00" stroke="#111" stroke-width="0.8" />
<rect x="350.05" y="612.80" width="4.50" height="54.80" fill="#4C1C66" />
<text transform="translate(203.20 629.80) rotate(-90) scale(1.015 1)" font-size="8.98" text-anchor="middle" fill="#111" stroke="#111" stroke-width="0.22" >Cell viability</text>
<text transform="translate(213.90 629.20) rotate(-90) scale(0.966 1)" font-size="8.98" text-anchor="middle" fill="#111" stroke="#111" stroke-width="0.22" >%Ghost Dye- CD19+</text>
<text transform="translate(233.30 679.80) scale(0.942 1)" font-size="7.38" text-anchor="end" fill="#111" stroke="#111" stroke-width="0.22" >FX1 (µM)</text>
<text transform="translate(233.30 689.60) scale(0.929 1)" font-size="7.38" text-anchor="end" fill="#111" stroke="#111" stroke-width="0.22" >GSK591 (µM)</text>
<text transform="translate(251.40 680.00) scale(0.981 1)" font-size="7.38" text-anchor="middle" fill="#111" stroke="#111" stroke-width="0.22" >50</text>
<text transform="translate(251.40 689.40) scale(0.981 1)" font-size="7.38" text-anchor="middle" fill="#111" stroke="#111" stroke-width="0.22" >10</text>
<text transform="translate(275.00 680.00) scale(0.981 1)" font-size="7.38" text-anchor="middle" fill="#111" stroke="#111" stroke-width="0.22" >25</text>
<text transform="translate(275.00 689.40) scale(0.981 1)" font-size="7.38" text-anchor="middle" fill="#111" stroke="#111" stroke-width="0.22" >5</text>
<text transform="translate(298.60 680.00) scale(0.954 1)" font-size="7.38" text-anchor="middle" fill="#111" stroke="#111" stroke-width="0.22" >12.5</text>
<text transform="translate(298.60 689.40) scale(0.944 1)" font-size="7.38" text-anchor="middle" fill="#111" stroke="#111" stroke-width="0.22" >2.5</text>
<text transform="translate(322.20 680.00) scale(0.954 1)" font-size="7.38" text-anchor="middle" fill="#111" stroke="#111" stroke-width="0.22" >6.25</text>
<text transform="translate(322.20 689.40) scale(0.954 1)" font-size="7.38" text-anchor="middle" fill="#111" stroke="#111" stroke-width="0.22" >1.25</text>
<text transform="translate(345.80 680.00) scale(0.881 1)" font-size="7.38" text-anchor="middle" fill="#111" stroke="#111" stroke-width="0.22" >VEH</text>
<text transform="translate(345.80 689.40) scale(0.881 1)" font-size="7.38" text-anchor="middle" fill="#111" stroke="#111" stroke-width="0.22" >VEH</text>
<path d="M244.00 641.50V637.30H256.20V637.30" stroke="#333" stroke-width="0.7" fill="none" />
<text transform="translate(253.50 635.60)" font-size="6.30" text-anchor="middle" fill="#111" stroke="#111" stroke-width="0.15" >††</text>
<path d="M267.80 632.90V629.50H279.80V629.50" stroke="#333" stroke-width="0.7" fill="none" />
<text transform="translate(277.10 627.90)" font-size="6.30" text-anchor="middle" fill="#111" stroke="#111" stroke-width="0.15" >††</text>
<path d="M292.70 620.50V617.40H304.90V617.40" stroke="#333" stroke-width="0.7" fill="none" />
<text transform="translate(301.20 615.40)" font-size="6.30" text-anchor="middle" fill="#111" stroke="#111" stroke-width="0.15" >††</text>
<path d="M298.50 628.50V625.70H304.90V625.70" stroke="#333" stroke-width="0.7" fill="none" />
<text transform="translate(303.80 623.50)" font-size="6.30" text-anchor="middle" fill="#111" stroke="#111" stroke-width="0.15" >†</text>
<path d="M316.10 623.10V601.10H328.00V601.10" stroke="#333" stroke-width="0.7" fill="none" />
<text transform="translate(324.20 599.30)" font-size="6.30" text-anchor="middle" fill="#111" stroke="#111" stroke-width="0.15" >††</text>
<path d="M321.60 613.10V609.20H328.00V609.20" stroke="#333" stroke-width="0.7" fill="none" />
<text transform="translate(324.20 607.40)" font-size="6.30" text-anchor="middle" fill="#111" stroke="#111" stroke-width="0.15" >††</text>
<text transform="translate(244.00 646.80)" font-size="6.60" text-anchor="middle" fill="#111" stroke="#111" stroke-width="0.2" >**</text>
<text transform="translate(250.80 660.80)" font-size="6.60" text-anchor="middle" fill="#111" stroke="#111" stroke-width="0.2" >**</text>
<text transform="translate(258.20 660.80)" font-size="6.60" text-anchor="middle" fill="#111" stroke="#111" stroke-width="0.2" >**</text>
<text transform="translate(268.30 638.70)" font-size="6.60" text-anchor="middle" fill="#111" stroke="#111" stroke-width="0.2" >**</text>
<text transform="translate(275.00 651.20)" font-size="6.60" text-anchor="middle" fill="#111" stroke="#111" stroke-width="0.2" >**</text>
<text transform="translate(281.70 648.80)" font-size="6.60" text-anchor="middle" fill="#111" stroke="#111" stroke-width="0.2" >**</text>
<text transform="translate(292.00 635.20)" font-size="6.60" text-anchor="middle" fill="#111" stroke="#111" stroke-width="0.2" >**</text>
<text transform="translate(297.90 633.60)" font-size="6.60" text-anchor="middle" fill="#111" stroke="#111" stroke-width="0.2" >**</text>
<text transform="translate(305.60 642.20)" font-size="6.60" text-anchor="middle" fill="#111" stroke="#111" stroke-width="0.2" >**</text>
<text transform="translate(315.50 627.60)" font-size="6.60" text-anchor="middle" fill="#111" stroke="#111" stroke-width="0.2" >**</text>
<text transform="translate(322.10 617.80)" font-size="6.60" text-anchor="middle" fill="#111" stroke="#111" stroke-width="0.2" >**</text>
<text transform="translate(328.50 631.90)" font-size="6.60" text-anchor="middle" fill="#111" stroke="#111" stroke-width="0.2" >**</text>
<line x1="394.00" y1="592.00" x2="394.00" y2="668.20" stroke="#111" stroke-width="1.2" />
<line x1="391.40" y1="667.60" x2="394.00" y2="667.60" stroke="#111" stroke-width="1.08" />
<text transform="translate(389.00 670.18) scale(0.981 1)" font-size="7.24" text-anchor="end" fill="#111" stroke="#111" stroke-width="0.22" >0</text>
<line x1="391.40" y1="643.40" x2="394.00" y2="643.40" stroke="#111" stroke-width="1.08" />
<text transform="translate(389.00 645.98) scale(0.981 1)" font-size="7.24" text-anchor="end" fill="#111" stroke="#111" stroke-width="0.22" >20</text>
<line x1="391.40" y1="619.20" x2="394.00" y2="619.20" stroke="#111" stroke-width="1.08" />
<text transform="translate(389.00 621.78) scale(0.981 1)" font-size="7.24" text-anchor="end" fill="#111" stroke="#111" stroke-width="0.22" >40</text>
<line x1="391.40" y1="595.00" x2="394.00" y2="595.00" stroke="#111" stroke-width="1.08" />
<text transform="translate(389.00 597.58) scale(0.981 1)" font-size="7.24" text-anchor="end" fill="#111" stroke="#111" stroke-width="0.22" >60</text>
<line x1="393.40" y1="667.60" x2="511.90" y2="667.60" stroke="#111" stroke-width="1.2" />
<line x1="406.40" y1="667.60" x2="406.40" y2="670.20" stroke="#111" stroke-width="1.08" />
<line x1="429.90" y1="667.60" x2="429.90" y2="670.20" stroke="#111" stroke-width="1.08" />
<line x1="453.40" y1="667.60" x2="453.40" y2="670.20" stroke="#111" stroke-width="1.08" />
<line x1="476.90" y1="667.60" x2="476.90" y2="670.20" stroke="#111" stroke-width="1.08" />
<line x1="500.40" y1="667.60" x2="500.40" y2="670.20" stroke="#111" stroke-width="1.08" />
<line x1="399.90" y1="641.90" x2="399.90" y2="645.80" stroke="#111" stroke-width="0.8" />
<line x1="398.70" y1="641.90" x2="401.10" y2="641.90" stroke="#111" stroke-width="0.8" />
<rect x="397.65" y="645.40" width="4.50" height="22.20" fill="#2B4982" />
<line x1="406.40" y1="641.90" x2="406.40" y2="652.50" stroke="#111" stroke-width="0.8" />
<line x1="405.20" y1="641.90" x2="407.60" y2="641.90" stroke="#111" stroke-width="0.8" />
<rect x="404.15" y="652.10" width="4.50" height="15.50" fill="#64A82E" />
<line x1="412.90" y1="656.70" x2="412.90" y2="661.40" stroke="#111" stroke-width="0.8" />
<line x1="411.70" y1="656.70" x2="414.10" y2="656.70" stroke="#111" stroke-width="0.8" />
<rect x="410.65" y="661.00" width="4.50" height="6.60" fill="#4C1C66" />
<line x1="423.40" y1="630.30" x2="423.40" y2="637.40" stroke="#111" stroke-width="0.8" />
<line x1="422.20" y1="630.30" x2="424.60" y2="630.30" stroke="#111" stroke-width="0.8" />
<rect x="421.15" y="637.00" width="4.50" height="30.60" fill="#2B4982" />
<line x1="429.90" y1="647.30" x2="429.90" y2="653.90" stroke="#111" stroke-width="0.8" />
<line x1="428.70" y1="647.30" x2="431.10" y2="647.30" stroke="#111" stroke-width="0.8" />
<rect x="427.65" y="653.50" width="4.50" height="14.10" fill="#64A82E" />
<line x1="436.40" y1="660.20" x2="436.40" y2="663.30" stroke="#111" stroke-width="0.8" />
<line x1="435.20" y1="660.20" x2="437.60" y2="660.20" stroke="#111" stroke-width="0.8" />
<rect x="434.15" y="662.90" width="4.50" height="4.70" fill="#4C1C66" />
<line x1="446.90" y1="619.80" x2="446.90" y2="625.60" stroke="#111" stroke-width="0.8" />
<line x1="445.70" y1="619.80" x2="448.10" y2="619.80" stroke="#111" stroke-width="0.8" />
<rect x="444.65" y="625.20" width="4.50" height="42.40" fill="#2B4982" />
<line x1="453.40" y1="638.40" x2="453.40" y2="649.00" stroke="#111" stroke-width="0.8" />
<line x1="452.20" y1="638.40" x2="454.60" y2="638.40" stroke="#111" stroke-width="0.8" />
<rect x="451.15" y="648.60" width="4.50" height="19.00" fill="#64A82E" />
<line x1="459.90" y1="659.40" x2="459.90" y2="663.80" stroke="#111" stroke-width="0.8" />
<line x1="458.70" y1="659.40" x2="461.10" y2="659.40" stroke="#111" stroke-width="0.8" />
<rect x="457.65" y="663.40" width="4.50" height="4.20" fill="#4C1C66" />
<line x1="470.40" y1="605.00" x2="470.40" y2="615.90" stroke="#111" stroke-width="0.8" />
<line x1="469.20" y1="605.00" x2="471.60" y2="605.00" stroke="#111" stroke-width="0.8" />
<rect x="468.15" y="615.50" width="4.50" height="52.10" fill="#2B4982" />
<line x1="476.90" y1="635.20" x2="476.90" y2="639.10" stroke="#111" stroke-width="0.8" />
<line x1="475.70" y1="635.20" x2="478.10" y2="635.20" stroke="#111" stroke-width="0.8" />
<rect x="474.65" y="638.70" width="4.50" height="28.90" fill="#64A82E" />
<line x1="483.40" y1="647.30" x2="483.40" y2="656.30" stroke="#111" stroke-width="0.8" />
<line x1="482.20" y1="647.30" x2="484.60" y2="647.30" stroke="#111" stroke-width="0.8" />
<rect x="481.15" y="655.90" width="4.50" height="11.70" fill="#4C1C66" />
<line x1="493.90" y1="600.70" x2="493.90" y2="603.20" stroke="#111" stroke-width="0.8" />
<line x1="492.70" y1="600.70" x2="495.10" y2="600.70" stroke="#111" stroke-width="0.8" />
<rect x="491.65" y="602.80" width="4.50" height="64.80" fill="#2B4982" />
<line x1="500.40" y1="600.70" x2="500.40" y2="603.20" stroke="#111" stroke-width="0.8" />
<line x1="499.20" y1="600.70" x2="501.60" y2="600.70" stroke="#111" stroke-width="0.8" />
<rect x="498.15" y="602.80" width="4.50" height="64.80" fill="#64A82E" />
<line x1="506.90" y1="600.70" x2="506.90" y2="603.20" stroke="#111" stroke-width="0.8" />
<line x1="505.70" y1="600.70" x2="508.10" y2="600.70" stroke="#111" stroke-width="0.8" />
<rect x="504.65" y="602.80" width="4.50" height="64.80" fill="#4C1C66" />
<text transform="translate(374.00 630.00) rotate(-90) scale(0.950 1)" font-size="8.98" text-anchor="middle" fill="#111" stroke="#111" stroke-width="0.22" >%DAPI- CD19+</text>
<text transform="translate(406.40 680.00) scale(0.981 1)" font-size="7.38" text-anchor="middle" fill="#111" stroke="#111" stroke-width="0.22" >50</text>
<text transform="translate(406.40 689.40) scale(0.981 1)" font-size="7.38" text-anchor="middle" fill="#111" stroke="#111" stroke-width="0.22" >10</text>
<text transform="translate(429.90 680.00) scale(0.981 1)" font-size="7.38" text-anchor="middle" fill="#111" stroke="#111" stroke-width="0.22" >25</text>
<text transform="translate(429.90 689.40) scale(0.981 1)" font-size="7.38" text-anchor="middle" fill="#111" stroke="#111" stroke-width="0.22" >5</text>
<text transform="translate(453.40 680.00) scale(0.954 1)" font-size="7.38" text-anchor="middle" fill="#111" stroke="#111" stroke-width="0.22" >12.5</text>
<text transform="translate(453.40 689.40) scale(0.944 1)" font-size="7.38" text-anchor="middle" fill="#111" stroke="#111" stroke-width="0.22" >2.5</text>
<text transform="translate(476.90 680.00) scale(0.954 1)" font-size="7.38" text-anchor="middle" fill="#111" stroke="#111" stroke-width="0.22" >6.25</text>
<text transform="translate(476.90 689.40) scale(0.954 1)" font-size="7.38" text-anchor="middle" fill="#111" stroke="#111" stroke-width="0.22" >1.25</text>
<text transform="translate(500.40 680.00) scale(0.881 1)" font-size="7.38" text-anchor="middle" fill="#111" stroke="#111" stroke-width="0.22" >VEH</text>
<text transform="translate(500.40 689.40) scale(0.881 1)" font-size="7.38" text-anchor="middle" fill="#111" stroke="#111" stroke-width="0.22" >VEH</text>
<path d="M400.10 633.80V630.80H412.30V630.80" stroke="#333" stroke-width="0.7" fill="none" />
<text transform="translate(409.30 628.20)" font-size="6.30" text-anchor="middle" fill="#111" stroke="#111" stroke-width="0.15" >††</text>
<path d="M423.30 623.20V620.20H435.90V620.20" stroke="#333" stroke-width="0.7" fill="none" />
<text transform="translate(433.00 617.70)" font-size="6.30" text-anchor="middle" fill="#111" stroke="#111" stroke-width="0.15" >††</text>
<path d="M447.20 616.30V612.50H459.40V612.50" stroke="#333" stroke-width="0.7" fill="none" />
<text transform="translate(456.40 610.40)" font-size="6.30" text-anchor="middle" fill="#111" stroke="#111" stroke-width="0.15" >††</text>
<path d="M470.30 601.90V598.70H482.50V598.70" stroke="#333" stroke-width="0.7" fill="none" />
<text transform="translate(479.90 596.50)" font-size="6.30" text-anchor="middle" fill="#111" stroke="#111" stroke-width="0.15" >††</text>
<path d="M476.60 627.50V624.60H482.50V624.60" stroke="#333" stroke-width="0.7" fill="none" />
<text transform="translate(481.80 621.90)" font-size="6.30" text-anchor="middle" fill="#111" stroke="#111" stroke-width="0.15" >†</text>
<text transform="translate(399.30 641.60)" font-size="6.60" text-anchor="middle" fill="#111" stroke="#111" stroke-width="0.2" >**</text>
<text transform="translate(405.80 641.60)" font-size="6.60" text-anchor="middle" fill="#111" stroke="#111" stroke-width="0.2" >**</text>
<text transform="translate(412.60 657.00)" font-size="6.60" text-anchor="middle" fill="#111" stroke="#111" stroke-width="0.2" >**</text>
<text transform="translate(423.30 630.10)" font-size="6.60" text-anchor="middle" fill="#111" stroke="#111" stroke-width="0.2" >**</text>
<text transform="translate(429.80 647.40)" font-size="6.60" text-anchor="middle" fill="#111" stroke="#111" stroke-width="0.2" >**</text>
<text transform="translate(436.20 660.20)" font-size="6.60" text-anchor="middle" fill="#111" stroke="#111" stroke-width="0.2" >**</text>
<text transform="translate(447.20 621.40)" font-size="6.60" text-anchor="middle" fill="#111" stroke="#111" stroke-width="0.2" >**</text>
<text transform="translate(453.50 638.20)" font-size="6.60" text-anchor="middle" fill="#111" stroke="#111" stroke-width="0.2" >**</text>
<text transform="translate(460.00 659.80)" font-size="6.60" text-anchor="middle" fill="#111" stroke="#111" stroke-width="0.2" >**</text>
<text transform="translate(476.90 634.60)" font-size="6.60" text-anchor="middle" fill="#111" stroke="#111" stroke-width="0.2" >**</text>
<text transform="translate(483.70 646.60)" font-size="6.60" text-anchor="middle" fill="#111" stroke="#111" stroke-width="0.2" >**</text>
<path d="M0 0.5H520" stroke="#000" stroke-width="1.2" fill="none"/>
<path d="M0.7 0V699" stroke="#000" stroke-width="1.5" fill="none"/>
<rect x="0.00" y="697.40" width="520.00" height="1.60" fill="#000" />
<rect x="518.60" y="0.00" width="1.40" height="699.00" fill="#000" />
</svg>
</body></html>
